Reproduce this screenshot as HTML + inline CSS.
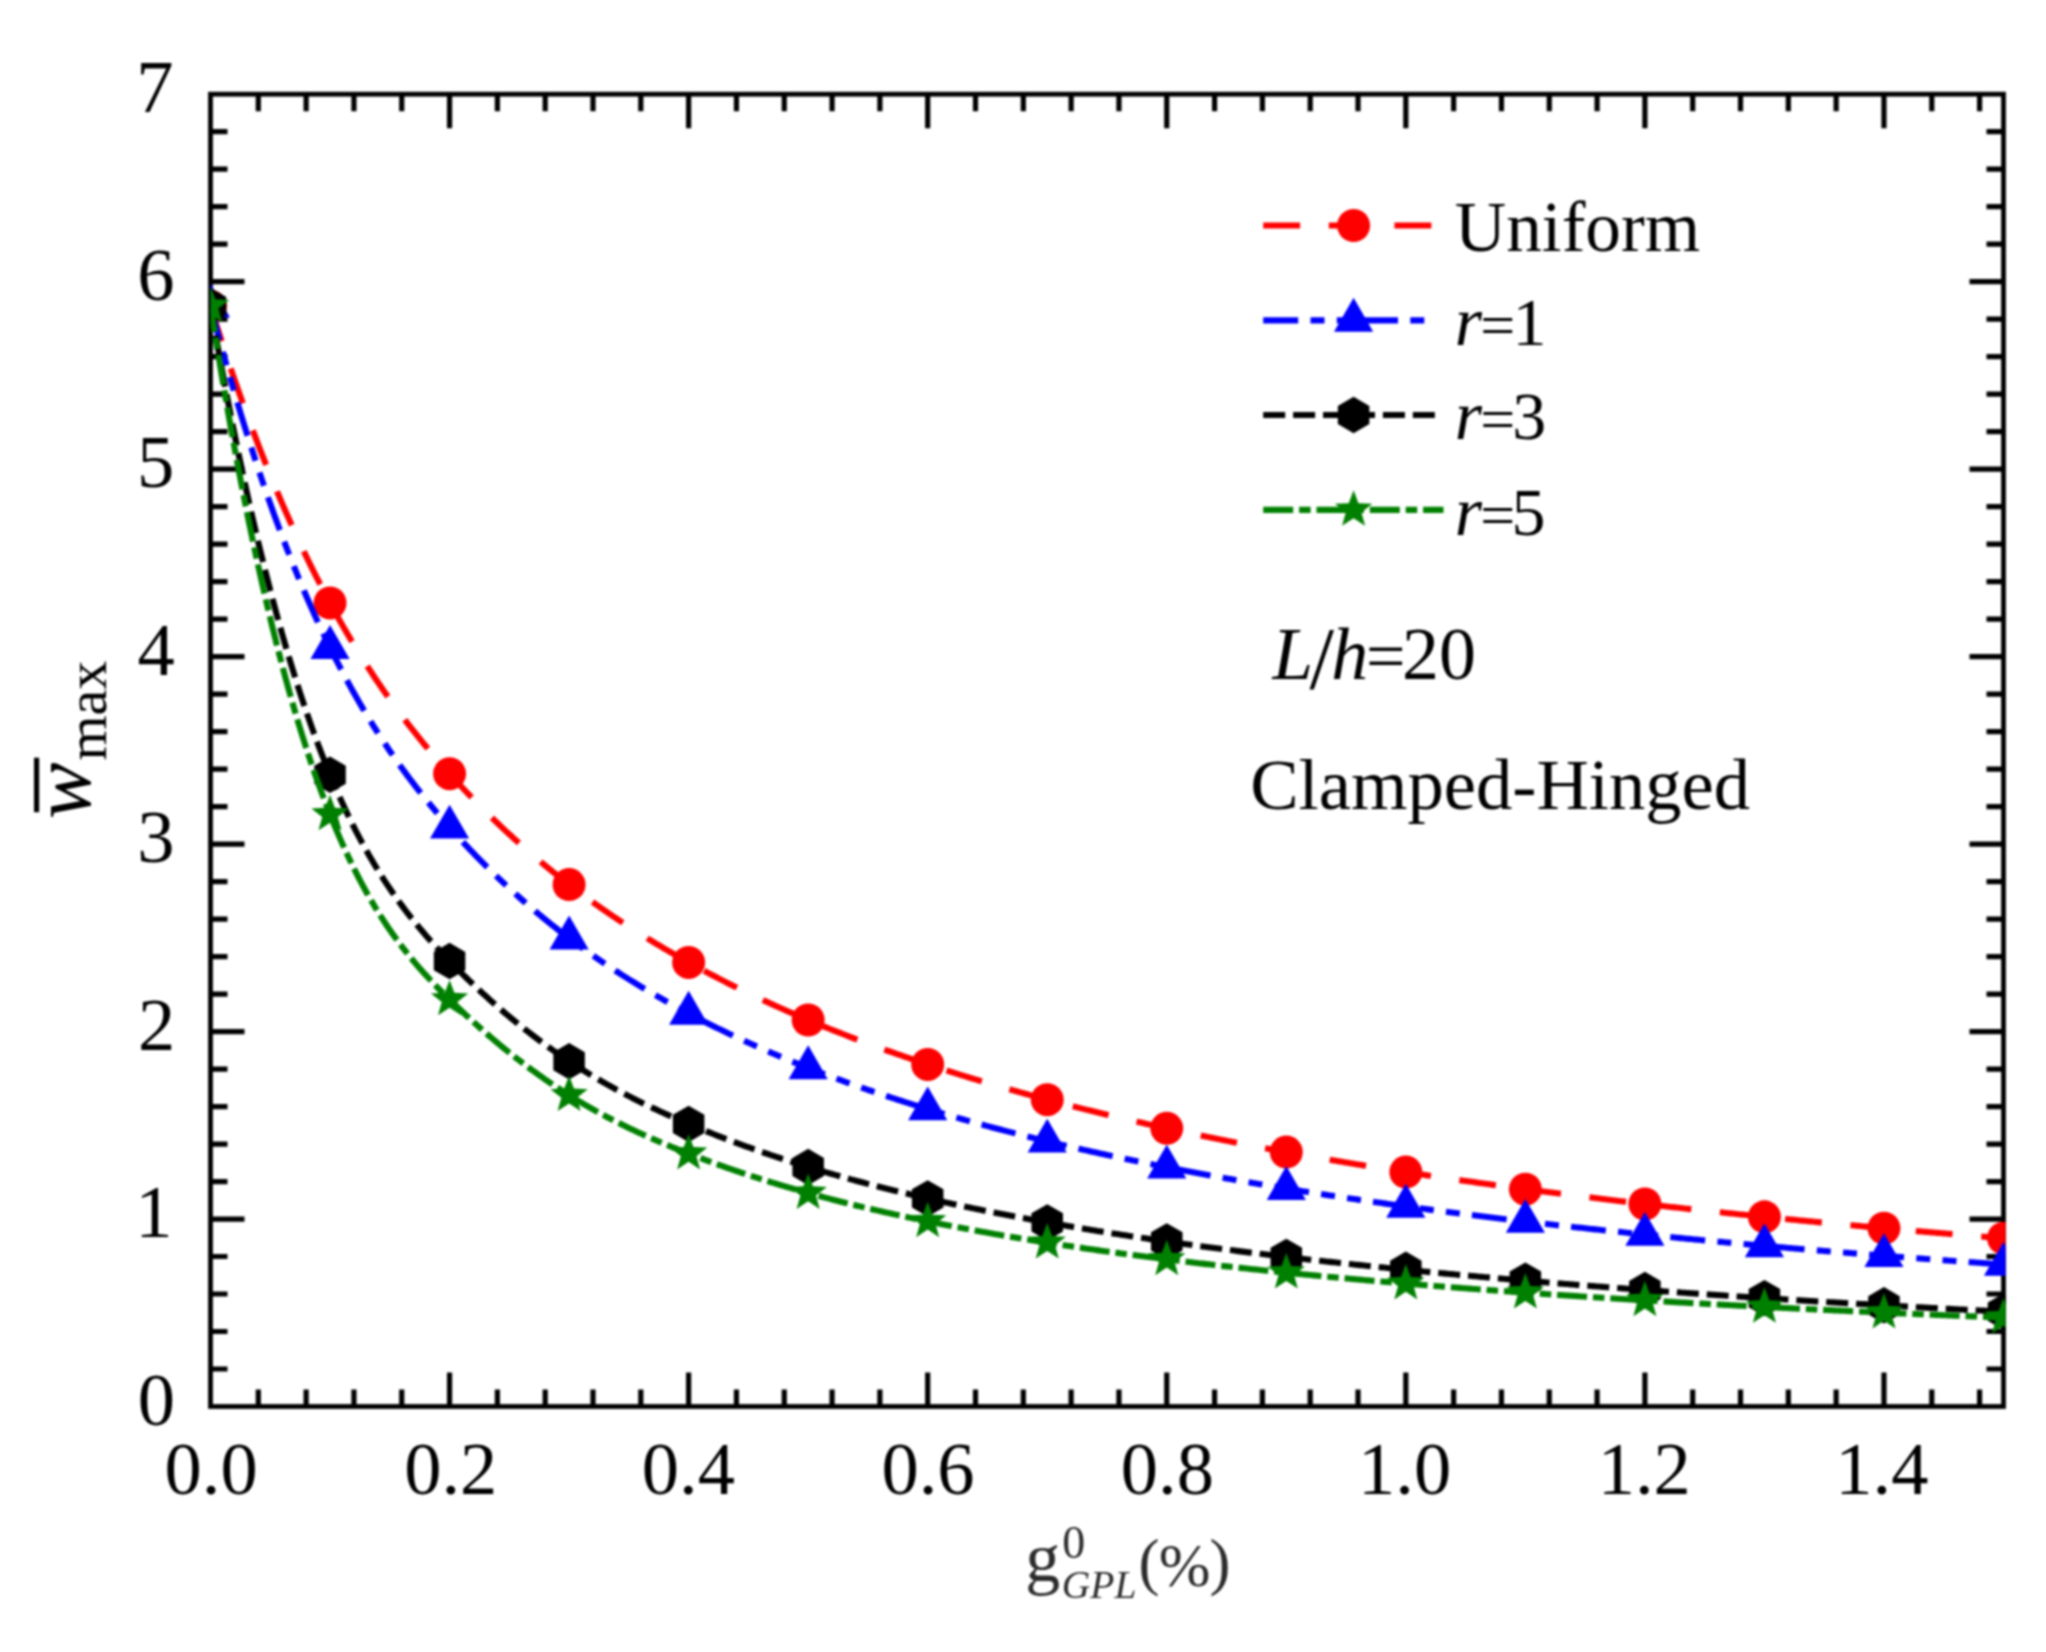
<!DOCTYPE html>
<html lang="en">
<head>
<meta charset="utf-8">
<title>Maximum deflection versus GPL weight fraction - Clamped-Hinged, L/h=20</title>
<style>
html,body{margin:0;padding:0;background:#fff;}
body{width:2046px;height:1652px;overflow:hidden;}
svg{display:block;filter:blur(0.8px);}
</style>
</head>
<body>
<svg width="2046" height="1652" viewBox="0 0 2046 1652" role="img" aria-label="Line chart of maximum deflection versus GPL weight fraction">
<rect width="2046" height="1652" fill="#ffffff"/>
<defs><clipPath id="pc"><rect x="210.5" y="94.2" width="1795.2" height="1312.3"/></clipPath></defs>
<g stroke="#000" stroke-width="5.2" fill="none" stroke-linecap="butt">
<path d="M258.31 1406.5V1389.5M258.31 94.2V111.2M306.13 1406.5V1389.5M306.13 94.2V111.2M353.94 1406.5V1389.5M353.94 94.2V111.2M401.75 1406.5V1389.5M401.75 94.2V111.2M449.57 1406.5V1372.5M449.57 94.2V128.2M497.38 1406.5V1389.5M497.38 94.2V111.2M545.19 1406.5V1389.5M545.19 94.2V111.2M593.01 1406.5V1389.5M593.01 94.2V111.2M640.82 1406.5V1389.5M640.82 94.2V111.2M688.63 1406.5V1372.5M688.63 94.2V128.2M736.45 1406.5V1389.5M736.45 94.2V111.2M784.26 1406.5V1389.5M784.26 94.2V111.2M832.07 1406.5V1389.5M832.07 94.2V111.2M879.89 1406.5V1389.5M879.89 94.2V111.2M927.7 1406.5V1372.5M927.7 94.2V128.2M975.51 1406.5V1389.5M975.51 94.2V111.2M1023.33 1406.5V1389.5M1023.33 94.2V111.2M1071.14 1406.5V1389.5M1071.14 94.2V111.2M1118.95 1406.5V1389.5M1118.95 94.2V111.2M1166.77 1406.5V1372.5M1166.77 94.2V128.2M1214.58 1406.5V1389.5M1214.58 94.2V111.2M1262.39 1406.5V1389.5M1262.39 94.2V111.2M1310.21 1406.5V1389.5M1310.21 94.2V111.2M1358.02 1406.5V1389.5M1358.02 94.2V111.2M1405.83 1406.5V1372.5M1405.83 94.2V128.2M1453.65 1406.5V1389.5M1453.65 94.2V111.2M1501.46 1406.5V1389.5M1501.46 94.2V111.2M1549.27 1406.5V1389.5M1549.27 94.2V111.2M1597.09 1406.5V1389.5M1597.09 94.2V111.2M1644.9 1406.5V1372.5M1644.9 94.2V128.2M1692.71 1406.5V1389.5M1692.71 94.2V111.2M1740.53 1406.5V1389.5M1740.53 94.2V111.2M1788.34 1406.5V1389.5M1788.34 94.2V111.2M1836.15 1406.5V1389.5M1836.15 94.2V111.2M1883.97 1406.5V1372.5M1883.97 94.2V128.2M1931.78 1406.5V1389.5M1931.78 94.2V111.2M1979.59 1406.5V1389.5M1979.59 94.2V111.2M210.5 1369.01H227.5M2003.5 1369.01H1986.5M210.5 1331.51H227.5M2003.5 1331.51H1986.5M210.5 1294.02H227.5M2003.5 1294.02H1986.5M210.5 1256.52H227.5M2003.5 1256.52H1986.5M210.5 1219.03H244.5M2003.5 1219.03H1969.5M210.5 1181.53H227.5M2003.5 1181.53H1986.5M210.5 1144.04H227.5M2003.5 1144.04H1986.5M210.5 1106.55H227.5M2003.5 1106.55H1986.5M210.5 1069.05H227.5M2003.5 1069.05H1986.5M210.5 1031.56H244.5M2003.5 1031.56H1969.5M210.5 994.06H227.5M2003.5 994.06H1986.5M210.5 956.57H227.5M2003.5 956.57H1986.5M210.5 919.07H227.5M2003.5 919.07H1986.5M210.5 881.58H227.5M2003.5 881.58H1986.5M210.5 844.09H244.5M2003.5 844.09H1969.5M210.5 806.59H227.5M2003.5 806.59H1986.5M210.5 769.1H227.5M2003.5 769.1H1986.5M210.5 731.6H227.5M2003.5 731.6H1986.5M210.5 694.11H227.5M2003.5 694.11H1986.5M210.5 656.61H244.5M2003.5 656.61H1969.5M210.5 619.12H227.5M2003.5 619.12H1986.5M210.5 581.63H227.5M2003.5 581.63H1986.5M210.5 544.13H227.5M2003.5 544.13H1986.5M210.5 506.64H227.5M2003.5 506.64H1986.5M210.5 469.14H244.5M2003.5 469.14H1969.5M210.5 431.65H227.5M2003.5 431.65H1986.5M210.5 394.15H227.5M2003.5 394.15H1986.5M210.5 356.66H227.5M2003.5 356.66H1986.5M210.5 319.17H227.5M2003.5 319.17H1986.5M210.5 281.67H244.5M2003.5 281.67H1969.5M210.5 244.18H227.5M2003.5 244.18H1986.5M210.5 206.68H227.5M2003.5 206.68H1986.5M210.5 169.19H227.5M2003.5 169.19H1986.5M210.5 131.69H227.5M2003.5 131.69H1986.5"/>
</g>
<rect x="210.5" y="94.2" width="1793" height="1312.3" fill="none" stroke="#000" stroke-width="4.8"/>
<g clip-path="url(#pc)">
<polyline points="210.5,306.15 212.49,312.55 214.48,318.88 216.48,325.16 218.47,331.39 220.46,337.56 222.45,343.68 224.45,349.74 226.44,355.75 228.43,361.71 230.42,367.61 232.41,373.46 234.41,379.26 236.4,385 238.39,390.7 240.38,396.34 242.38,401.93 244.37,407.48 246.36,412.97 248.35,418.41 250.34,423.8 252.34,429.15 254.33,434.44 256.32,439.69 258.31,444.89 260.31,450.04 262.3,455.14 264.29,460.2 266.28,465.21 268.27,470.17 270.27,475.09 272.26,479.96 274.25,484.78 276.24,489.57 278.24,494.3 280.23,499 282.22,503.64 284.21,508.25 286.2,512.81 288.2,517.33 290.19,521.81 292.18,526.24 294.17,530.64 296.17,534.99 298.16,539.3 300.15,543.57 302.14,547.8 304.13,551.99 306.13,556.14 308.12,560.25 310.11,564.33 312.1,568.36 314.1,572.36 316.09,576.31 318.08,580.23 320.07,584.12 322.06,587.96 324.06,591.77 326.05,595.55 328.04,599.28 330.03,602.99 332.03,606.66 334.02,610.29 336.01,613.89 338,617.45 339.99,620.98 341.99,624.48 343.98,627.94 345.97,631.38 347.96,634.78 349.96,638.15 351.95,641.48 353.94,644.79 355.93,648.06 357.92,651.31 359.92,654.52 361.91,657.7 363.9,660.86 365.89,663.99 367.89,667.08 369.88,670.15 371.87,673.19 373.86,676.21 375.85,679.19 377.85,682.15 379.84,685.08 381.83,687.99 383.82,690.87 385.82,693.72 387.81,696.55 389.8,699.36 391.79,702.14 393.78,704.89 395.78,707.63 397.77,710.33 399.76,713.02 401.75,715.68 403.75,718.32 405.74,720.94 407.73,723.54 409.72,726.12 411.71,728.67 413.71,731.2 415.7,733.72 417.69,736.21 419.68,738.69 421.68,741.14 423.67,743.58 425.66,746 427.65,748.4 429.64,750.78 431.64,753.14 433.63,755.49 435.62,757.82 437.61,760.13 439.61,762.43 441.6,764.72 443.59,766.98 445.58,769.23 447.57,771.47 449.57,773.7 451.56,775.91 453.55,778.1 455.54,780.28 457.54,782.45 459.53,784.61 461.52,786.75 463.51,788.87 465.5,790.99 467.5,793.09 469.49,795.18 471.48,797.25 473.47,799.31 475.47,801.36 477.46,803.4 479.45,805.42 481.44,807.43 483.43,809.43 485.43,811.41 487.42,813.39 489.41,815.35 491.4,817.3 493.4,819.23 495.39,821.16 497.38,823.07 499.37,824.97 501.36,826.86 503.36,828.73 505.35,830.6 507.34,832.45 509.33,834.29 511.33,836.12 513.32,837.94 515.31,839.75 517.3,841.54 519.29,843.33 521.29,845.1 523.28,846.86 525.27,848.62 527.26,850.36 529.26,852.09 531.25,853.81 533.24,855.52 535.23,857.22 537.22,858.91 539.22,860.58 541.21,862.25 543.2,863.91 545.19,865.56 547.19,867.2 549.18,868.82 551.17,870.44 553.16,872.05 555.15,873.65 557.15,875.24 559.14,876.82 561.13,878.39 563.12,879.95 565.12,881.5 567.11,883.05 569.1,884.58 571.09,886.1 573.08,887.62 575.08,889.13 577.07,890.63 579.06,892.11 581.05,893.6 583.05,895.07 585.04,896.53 587.03,897.99 589.02,899.43 591.01,900.87 593.01,902.3 595,903.72 596.99,905.14 598.98,906.54 600.98,907.94 602.97,909.33 604.96,910.71 606.95,912.09 608.94,913.45 610.94,914.81 612.93,916.16 614.92,917.5 616.91,918.84 618.91,920.17 620.9,921.49 622.89,922.8 624.88,924.11 626.87,925.4 628.87,926.7 630.86,927.98 632.85,929.26 634.84,930.53 636.84,931.79 638.83,933.05 640.82,934.3 642.81,935.54 644.8,936.77 646.8,938 648.79,939.23 650.78,940.44 652.77,941.65 654.77,942.86 656.76,944.05 658.75,945.24 660.74,946.43 662.73,947.61 664.73,948.78 666.72,949.95 668.71,951.11 670.7,952.26 672.7,953.41 674.69,954.55 676.68,955.69 678.67,956.82 680.66,957.95 682.66,959.07 684.65,960.18 686.64,961.29 688.63,962.4 690.63,963.5 692.62,964.59 694.61,965.68 696.6,966.76 698.59,967.84 700.59,968.91 702.58,969.98 704.57,971.04 706.56,972.1 708.56,973.16 710.55,974.2 712.54,975.25 714.53,976.28 716.52,977.32 718.52,978.35 720.51,979.37 722.5,980.39 724.49,981.4 726.49,982.41 728.48,983.41 730.47,984.41 732.46,985.41 734.45,986.4 736.45,987.38 738.44,988.36 740.43,989.34 742.42,990.31 744.42,991.28 746.41,992.24 748.4,993.2 750.39,994.16 752.38,995.11 754.38,996.05 756.37,996.99 758.36,997.93 760.35,998.86 762.35,999.79 764.34,1000.71 766.33,1001.63 768.32,1002.55 770.31,1003.46 772.31,1004.36 774.3,1005.27 776.29,1006.17 778.28,1007.06 780.28,1007.95 782.27,1008.84 784.26,1009.72 786.25,1010.6 788.24,1011.48 790.24,1012.35 792.23,1013.22 794.22,1014.08 796.21,1014.94 798.21,1015.8 800.2,1016.65 802.19,1017.5 804.18,1018.34 806.17,1019.18 808.17,1020.02 810.16,1020.86 812.15,1021.69 814.14,1022.51 816.14,1023.34 818.13,1024.16 820.12,1024.97 822.11,1025.79 824.1,1026.6 826.1,1027.4 828.09,1028.21 830.08,1029.01 832.07,1029.8 834.07,1030.59 836.06,1031.38 838.05,1032.17 840.04,1032.95 842.03,1033.73 844.03,1034.51 846.02,1035.28 848.01,1036.05 850,1036.82 852,1037.58 853.99,1038.34 855.98,1039.1 857.97,1039.85 859.96,1040.6 861.96,1041.35 863.95,1042.1 865.94,1042.84 867.93,1043.58 869.93,1044.31 871.92,1045.04 873.91,1045.77 875.9,1046.5 877.89,1047.22 879.89,1047.94 881.88,1048.66 883.87,1049.38 885.86,1050.09 887.86,1050.8 889.85,1051.5 891.84,1052.21 893.83,1052.91 895.82,1053.61 897.82,1054.3 899.81,1054.99 901.8,1055.68 903.79,1056.37 905.79,1057.05 907.78,1057.74 909.77,1058.41 911.76,1059.09 913.75,1059.76 915.75,1060.44 917.74,1061.1 919.73,1061.77 921.72,1062.43 923.72,1063.09 925.71,1063.75 927.7,1064.41 929.69,1065.06 931.68,1065.71 933.68,1066.36 935.67,1067.01 937.66,1067.65 939.65,1068.29 941.65,1068.93 943.64,1069.57 945.63,1070.2 947.62,1070.83 949.61,1071.46 951.61,1072.09 953.6,1072.71 955.59,1073.34 957.58,1073.96 959.58,1074.57 961.57,1075.19 963.56,1075.8 965.55,1076.41 967.54,1077.02 969.54,1077.63 971.53,1078.23 973.52,1078.84 975.51,1079.44 977.51,1080.03 979.5,1080.63 981.49,1081.22 983.48,1081.81 985.47,1082.4 987.47,1082.99 989.46,1083.57 991.45,1084.16 993.44,1084.74 995.44,1085.31 997.43,1085.89 999.42,1086.46 1001.41,1087.04 1003.4,1087.61 1005.4,1088.17 1007.39,1088.74 1009.38,1089.3 1011.37,1089.87 1013.37,1090.43 1015.36,1090.98 1017.35,1091.54 1019.34,1092.09 1021.33,1092.65 1023.33,1093.2 1025.32,1093.74 1027.31,1094.29 1029.3,1094.84 1031.3,1095.38 1033.29,1095.92 1035.28,1096.46 1037.27,1096.99 1039.26,1097.53 1041.26,1098.06 1043.25,1098.59 1045.24,1099.12 1047.23,1099.65 1049.23,1100.18 1051.22,1100.7 1053.21,1101.22 1055.2,1101.74 1057.19,1102.26 1059.19,1102.78 1061.18,1103.3 1063.17,1103.81 1065.16,1104.32 1067.16,1104.83 1069.15,1105.34 1071.14,1105.85 1073.13,1106.35 1075.12,1106.85 1077.12,1107.36 1079.11,1107.86 1081.1,1108.35 1083.09,1108.85 1085.09,1109.35 1087.08,1109.84 1089.07,1110.33 1091.06,1110.82 1093.05,1111.31 1095.05,1111.8 1097.04,1112.28 1099.03,1112.77 1101.02,1113.25 1103.02,1113.73 1105.01,1114.21 1107,1114.68 1108.99,1115.16 1110.98,1115.63 1112.98,1116.11 1114.97,1116.58 1116.96,1117.05 1118.95,1117.52 1120.95,1117.98 1122.94,1118.45 1124.93,1118.91 1126.92,1119.37 1128.91,1119.83 1130.91,1120.29 1132.9,1120.75 1134.89,1121.21 1136.88,1121.66 1138.88,1122.11 1140.87,1122.56 1142.86,1123.02 1144.85,1123.46 1146.84,1123.91 1148.84,1124.36 1150.83,1124.8 1152.82,1125.25 1154.81,1125.69 1156.81,1126.13 1158.8,1126.57 1160.79,1127 1162.78,1127.44 1164.77,1127.88 1166.77,1128.31 1168.76,1128.74 1170.75,1129.17 1172.74,1129.6 1174.74,1130.03 1176.73,1130.46 1178.72,1130.88 1180.71,1131.31 1182.7,1131.73 1184.7,1132.15 1186.69,1132.57 1188.68,1132.99 1190.67,1133.41 1192.67,1133.83 1194.66,1134.24 1196.65,1134.66 1198.64,1135.07 1200.63,1135.48 1202.63,1135.89 1204.62,1136.3 1206.61,1136.71 1208.6,1137.12 1210.6,1137.52 1212.59,1137.93 1214.58,1138.33 1216.57,1138.73 1218.56,1139.13 1220.56,1139.53 1222.55,1139.93 1224.54,1140.33 1226.53,1140.72 1228.53,1141.12 1230.52,1141.51 1232.51,1141.9 1234.5,1142.29 1236.49,1142.68 1238.49,1143.07 1240.48,1143.46 1242.47,1143.85 1244.46,1144.23 1246.46,1144.62 1248.45,1145 1250.44,1145.38 1252.43,1145.76 1254.42,1146.14 1256.42,1146.52 1258.41,1146.9 1260.4,1147.28 1262.39,1147.65 1264.39,1148.03 1266.38,1148.4 1268.37,1148.77 1270.36,1149.14 1272.35,1149.51 1274.35,1149.88 1276.34,1150.25 1278.33,1150.62 1280.32,1150.98 1282.32,1151.35 1284.31,1151.71 1286.3,1152.07 1288.29,1152.43 1290.28,1152.79 1292.28,1153.15 1294.27,1153.51 1296.26,1153.87 1298.25,1154.23 1300.25,1154.58 1302.24,1154.94 1304.23,1155.29 1306.22,1155.64 1308.21,1156 1310.21,1156.35 1312.2,1156.7 1314.19,1157.04 1316.18,1157.39 1318.18,1157.74 1320.17,1158.09 1322.16,1158.43 1324.15,1158.77 1326.14,1159.12 1328.14,1159.46 1330.13,1159.8 1332.12,1160.14 1334.11,1160.48 1336.11,1160.82 1338.1,1161.15 1340.09,1161.49 1342.08,1161.83 1344.07,1162.16 1346.07,1162.49 1348.06,1162.83 1350.05,1163.16 1352.04,1163.49 1354.04,1163.82 1356.03,1164.15 1358.02,1164.48 1360.01,1164.8 1362,1165.13 1364,1165.46 1365.99,1165.78 1367.98,1166.1 1369.97,1166.43 1371.97,1166.75 1373.96,1167.07 1375.95,1167.39 1377.94,1167.71 1379.93,1168.03 1381.93,1168.35 1383.92,1168.66 1385.91,1168.98 1387.9,1169.3 1389.9,1169.61 1391.89,1169.92 1393.88,1170.24 1395.87,1170.55 1397.86,1170.86 1399.86,1171.17 1401.85,1171.48 1403.84,1171.79 1405.83,1172.1 1407.83,1172.4 1409.82,1172.71 1411.81,1173.01 1413.8,1173.32 1415.79,1173.62 1417.79,1173.93 1419.78,1174.23 1421.77,1174.53 1423.76,1174.83 1425.76,1175.13 1427.75,1175.43 1429.74,1175.73 1431.73,1176.03 1433.72,1176.32 1435.72,1176.62 1437.71,1176.91 1439.7,1177.21 1441.69,1177.5 1443.69,1177.79 1445.68,1178.09 1447.67,1178.38 1449.66,1178.67 1451.65,1178.96 1453.65,1179.25 1455.64,1179.54 1457.63,1179.83 1459.62,1180.11 1461.62,1180.4 1463.61,1180.68 1465.6,1180.97 1467.59,1181.25 1469.58,1181.54 1471.58,1181.82 1473.57,1182.1 1475.56,1182.38 1477.55,1182.66 1479.55,1182.94 1481.54,1183.22 1483.53,1183.5 1485.52,1183.78 1487.51,1184.06 1489.51,1184.33 1491.5,1184.61 1493.49,1184.89 1495.48,1185.16 1497.48,1185.43 1499.47,1185.71 1501.46,1185.98 1503.45,1186.25 1505.44,1186.52 1507.44,1186.79 1509.43,1187.06 1511.42,1187.33 1513.41,1187.6 1515.41,1187.87 1517.4,1188.13 1519.39,1188.4 1521.38,1188.67 1523.37,1188.93 1525.37,1189.2 1527.36,1189.46 1529.35,1189.72 1531.34,1189.99 1533.34,1190.25 1535.33,1190.51 1537.32,1190.77 1539.31,1191.03 1541.3,1191.29 1543.3,1191.55 1545.29,1191.81 1547.28,1192.06 1549.27,1192.32 1551.27,1192.58 1553.26,1192.83 1555.25,1193.09 1557.24,1193.34 1559.23,1193.6 1561.23,1193.85 1563.22,1194.1 1565.21,1194.36 1567.2,1194.61 1569.2,1194.86 1571.19,1195.11 1573.18,1195.36 1575.17,1195.61 1577.16,1195.86 1579.16,1196.1 1581.15,1196.35 1583.14,1196.6 1585.13,1196.84 1587.13,1197.09 1589.12,1197.34 1591.11,1197.58 1593.1,1197.82 1595.09,1198.07 1597.09,1198.31 1599.08,1198.55 1601.07,1198.79 1603.06,1199.03 1605.06,1199.28 1607.05,1199.52 1609.04,1199.75 1611.03,1199.99 1613.02,1200.23 1615.02,1200.47 1617.01,1200.71 1619,1200.94 1620.99,1201.18 1622.99,1201.42 1624.98,1201.65 1626.97,1201.89 1628.96,1202.12 1630.95,1202.35 1632.95,1202.59 1634.94,1202.82 1636.93,1203.05 1638.92,1203.28 1640.92,1203.51 1642.91,1203.74 1644.9,1203.97 1646.89,1204.2 1648.88,1204.43 1650.88,1204.66 1652.87,1204.89 1654.86,1205.11 1656.85,1205.34 1658.85,1205.57 1660.84,1205.79 1662.83,1206.02 1664.82,1206.24 1666.81,1206.47 1668.81,1206.69 1670.8,1206.91 1672.79,1207.14 1674.78,1207.36 1676.78,1207.58 1678.77,1207.8 1680.76,1208.02 1682.75,1208.24 1684.74,1208.46 1686.74,1208.68 1688.73,1208.9 1690.72,1209.12 1692.71,1209.33 1694.71,1209.55 1696.7,1209.77 1698.69,1209.99 1700.68,1210.2 1702.67,1210.42 1704.67,1210.63 1706.66,1210.85 1708.65,1211.06 1710.64,1211.27 1712.64,1211.49 1714.63,1211.7 1716.62,1211.91 1718.61,1212.12 1720.6,1212.33 1722.6,1212.54 1724.59,1212.75 1726.58,1212.96 1728.57,1213.17 1730.57,1213.38 1732.56,1213.59 1734.55,1213.8 1736.54,1214.01 1738.53,1214.21 1740.53,1214.42 1742.52,1214.63 1744.51,1214.83 1746.5,1215.04 1748.5,1215.24 1750.49,1215.45 1752.48,1215.65 1754.47,1215.85 1756.46,1216.06 1758.46,1216.26 1760.45,1216.46 1762.44,1216.66 1764.43,1216.87 1766.43,1217.07 1768.42,1217.27 1770.41,1217.47 1772.4,1217.67 1774.39,1217.87 1776.39,1218.07 1778.38,1218.26 1780.37,1218.46 1782.36,1218.66 1784.36,1218.86 1786.35,1219.05 1788.34,1219.25 1790.33,1219.45 1792.32,1219.64 1794.32,1219.84 1796.31,1220.03 1798.3,1220.23 1800.29,1220.42 1802.29,1220.61 1804.28,1220.81 1806.27,1221 1808.26,1221.19 1810.25,1221.38 1812.25,1221.58 1814.24,1221.77 1816.23,1221.96 1818.22,1222.15 1820.22,1222.34 1822.21,1222.53 1824.2,1222.72 1826.19,1222.91 1828.18,1223.09 1830.18,1223.28 1832.17,1223.47 1834.16,1223.66 1836.15,1223.84 1838.15,1224.03 1840.14,1224.22 1842.13,1224.4 1844.12,1224.59 1846.11,1224.77 1848.11,1224.96 1850.1,1225.14 1852.09,1225.33 1854.08,1225.51 1856.08,1225.69 1858.07,1225.87 1860.06,1226.06 1862.05,1226.24 1864.04,1226.42 1866.04,1226.6 1868.03,1226.78 1870.02,1226.96 1872.01,1227.14 1874.01,1227.32 1876,1227.5 1877.99,1227.68 1879.98,1227.86 1881.97,1228.04 1883.97,1228.22 1885.96,1228.39 1887.95,1228.57 1889.94,1228.75 1891.94,1228.93 1893.93,1229.1 1895.92,1229.28 1897.91,1229.45 1899.9,1229.63 1901.9,1229.8 1903.89,1229.98 1905.88,1230.15 1907.87,1230.33 1909.87,1230.5 1911.86,1230.67 1913.85,1230.84 1915.84,1231.02 1917.83,1231.19 1919.83,1231.36 1921.82,1231.53 1923.81,1231.7 1925.8,1231.87 1927.8,1232.04 1929.79,1232.21 1931.78,1232.38 1933.77,1232.55 1935.76,1232.72 1937.76,1232.89 1939.75,1233.06 1941.74,1233.23 1943.73,1233.4 1945.73,1233.56 1947.72,1233.73 1949.71,1233.9 1951.7,1234.06 1953.69,1234.23 1955.69,1234.4 1957.68,1234.56 1959.67,1234.73 1961.66,1234.89 1963.66,1235.06 1965.65,1235.22 1967.64,1235.38 1969.63,1235.55 1971.62,1235.71 1973.62,1235.87 1975.61,1236.04 1977.6,1236.2 1979.59,1236.36 1981.59,1236.52 1983.58,1236.69 1985.57,1236.85 1987.56,1237.01 1989.55,1237.17 1991.55,1237.33 1993.54,1237.49 1995.53,1237.65 1997.52,1237.81 1999.52,1237.97 2001.51,1238.13 2003.5,1238.29" fill="none" stroke="#ff0000" stroke-width="6.1" stroke-dasharray="36.9 28.72" stroke-dashoffset="0"/>
<circle cx="210.5" cy="306.15" r="16.5" fill="#ff0000"/>
<circle cx="330.03" cy="602.99" r="16.5" fill="#ff0000"/>
<circle cx="449.57" cy="773.7" r="16.5" fill="#ff0000"/>
<circle cx="569.1" cy="884.58" r="16.5" fill="#ff0000"/>
<circle cx="688.63" cy="962.4" r="16.5" fill="#ff0000"/>
<circle cx="808.17" cy="1020.02" r="16.5" fill="#ff0000"/>
<circle cx="927.7" cy="1064.41" r="16.5" fill="#ff0000"/>
<circle cx="1047.23" cy="1099.65" r="16.5" fill="#ff0000"/>
<circle cx="1166.77" cy="1128.31" r="16.5" fill="#ff0000"/>
<circle cx="1286.3" cy="1152.07" r="16.5" fill="#ff0000"/>
<circle cx="1405.83" cy="1172.1" r="16.5" fill="#ff0000"/>
<circle cx="1525.37" cy="1189.2" r="16.5" fill="#ff0000"/>
<circle cx="1644.9" cy="1203.97" r="16.5" fill="#ff0000"/>
<circle cx="1764.43" cy="1216.87" r="16.5" fill="#ff0000"/>
<circle cx="1883.97" cy="1228.22" r="16.5" fill="#ff0000"/>
<circle cx="2003.5" cy="1238.29" r="16.5" fill="#ff0000"/>
<polyline points="210.5,306.13 212.49,313.73 214.48,321.26 216.48,328.71 218.47,336.08 220.46,343.39 222.45,350.62 224.45,357.78 226.44,364.87 228.43,371.89 230.42,378.84 232.41,385.72 234.41,392.53 236.4,399.27 238.39,405.94 240.38,412.55 242.38,419.08 244.37,425.55 246.36,431.96 248.35,438.29 250.34,444.57 252.34,450.77 254.33,456.92 256.32,463 258.31,469.01 260.31,474.97 262.3,480.86 264.29,486.69 266.28,492.45 268.27,498.16 270.27,503.81 272.26,509.39 274.25,514.92 276.24,520.39 278.24,525.8 280.23,531.15 282.22,536.44 284.21,541.68 286.2,546.86 288.2,551.99 290.19,557.06 292.18,562.07 294.17,567.03 296.17,571.94 298.16,576.79 300.15,581.59 302.14,586.34 304.13,591.03 306.13,595.68 308.12,600.27 310.11,604.82 312.1,609.31 314.1,613.75 316.09,618.15 318.08,622.49 320.07,626.79 322.06,631.04 324.06,635.25 326.05,639.41 328.04,643.52 330.03,647.59 332.03,651.61 334.02,655.58 336.01,659.52 338,663.41 339.99,667.25 341.99,671.06 343.98,674.82 345.97,678.54 347.96,682.22 349.96,685.86 351.95,689.46 353.94,693.02 355.93,696.54 357.92,700.03 359.92,703.47 361.91,706.88 363.9,710.25 365.89,713.58 367.89,716.88 369.88,720.15 371.87,723.37 373.86,726.57 375.85,729.73 377.85,732.85 379.84,735.95 381.83,739.01 383.82,742.03 385.82,745.03 387.81,748 389.8,750.93 391.79,753.84 393.78,756.72 395.78,759.56 397.77,762.38 399.76,765.17 401.75,767.94 403.75,770.67 405.74,773.38 407.73,776.07 409.72,778.73 411.71,781.36 413.71,783.97 415.7,786.55 417.69,789.11 419.68,791.65 421.68,794.17 423.67,796.66 425.66,799.14 427.65,801.59 429.64,804.02 431.64,806.43 433.63,808.82 435.62,811.19 437.61,813.55 439.61,815.88 441.6,818.2 443.59,820.5 445.58,822.79 447.57,825.06 449.57,827.31 451.56,829.55 453.55,831.78 455.54,833.98 457.54,836.18 459.53,838.36 461.52,840.52 463.51,842.67 465.5,844.81 467.5,846.93 469.49,849.04 471.48,851.13 473.47,853.21 475.47,855.28 477.46,857.33 479.45,859.37 481.44,861.39 483.43,863.4 485.43,865.4 487.42,867.38 489.41,869.35 491.4,871.31 493.4,873.25 495.39,875.18 497.38,877.1 499.37,879 501.36,880.9 503.36,882.77 505.35,884.64 507.34,886.49 509.33,888.34 511.33,890.17 513.32,891.98 515.31,893.79 517.3,895.58 519.29,897.36 521.29,899.13 523.28,900.88 525.27,902.63 527.26,904.36 529.26,906.08 531.25,907.79 533.24,909.49 535.23,911.18 537.22,912.86 539.22,914.52 541.21,916.17 543.2,917.82 545.19,919.45 547.19,921.07 549.18,922.68 551.17,924.28 553.16,925.87 555.15,927.45 557.15,929.02 559.14,930.57 561.13,932.12 563.12,933.66 565.12,935.19 567.11,936.71 569.1,938.21 571.09,939.71 573.08,941.2 575.08,942.68 577.07,944.15 579.06,945.61 581.05,947.06 583.05,948.5 585.04,949.93 587.03,951.35 589.02,952.77 591.01,954.17 593.01,955.57 595,956.95 596.99,958.33 598.98,959.7 600.98,961.06 602.97,962.41 604.96,963.76 606.95,965.09 608.94,966.42 610.94,967.74 612.93,969.05 614.92,970.35 616.91,971.64 618.91,972.93 620.9,974.21 622.89,975.48 624.88,976.74 626.87,977.99 628.87,979.24 630.86,980.48 632.85,981.71 634.84,982.94 636.84,984.15 638.83,985.36 640.82,986.57 642.81,987.76 644.8,988.95 646.8,990.13 648.79,991.31 650.78,992.48 652.77,993.64 654.77,994.79 656.76,995.94 658.75,997.08 660.74,998.22 662.73,999.34 664.73,1000.47 666.72,1001.58 668.71,1002.69 670.7,1003.8 672.7,1004.89 674.69,1005.99 676.68,1007.07 678.67,1008.15 680.66,1009.23 682.66,1010.3 684.65,1011.36 686.64,1012.42 688.63,1013.47 690.63,1014.52 692.62,1015.56 694.61,1016.59 696.6,1017.63 698.59,1018.65 700.59,1019.67 702.58,1020.69 704.57,1021.7 706.56,1022.7 708.56,1023.7 710.55,1024.7 712.54,1025.69 714.53,1026.67 716.52,1027.65 718.52,1028.63 720.51,1029.6 722.5,1030.57 724.49,1031.53 726.49,1032.48 728.48,1033.43 730.47,1034.38 732.46,1035.32 734.45,1036.26 736.45,1037.19 738.44,1038.12 740.43,1039.04 742.42,1039.96 744.42,1040.87 746.41,1041.78 748.4,1042.69 750.39,1043.59 752.38,1044.48 754.38,1045.37 756.37,1046.26 758.36,1047.14 760.35,1048.02 762.35,1048.9 764.34,1049.77 766.33,1050.63 768.32,1051.49 770.31,1052.35 772.31,1053.2 774.3,1054.05 776.29,1054.9 778.28,1055.74 780.28,1056.58 782.27,1057.41 784.26,1058.24 786.25,1059.06 788.24,1059.88 790.24,1060.7 792.23,1061.51 794.22,1062.32 796.21,1063.13 798.21,1063.93 800.2,1064.73 802.19,1065.52 804.18,1066.32 806.17,1067.1 808.17,1067.89 810.16,1068.67 812.15,1069.44 814.14,1070.22 816.14,1070.99 818.13,1071.75 820.12,1072.51 822.11,1073.27 824.1,1074.03 826.1,1074.78 828.09,1075.53 830.08,1076.27 832.07,1077.02 834.07,1077.76 836.06,1078.49 838.05,1079.22 840.04,1079.95 842.03,1080.68 844.03,1081.4 846.02,1082.12 848.01,1082.83 850,1083.55 852,1084.26 853.99,1084.96 855.98,1085.67 857.97,1086.37 859.96,1087.06 861.96,1087.76 863.95,1088.45 865.94,1089.14 867.93,1089.82 869.93,1090.5 871.92,1091.18 873.91,1091.86 875.9,1092.53 877.89,1093.2 879.89,1093.87 881.88,1094.53 883.87,1095.19 885.86,1095.85 887.86,1096.51 889.85,1097.16 891.84,1097.81 893.83,1098.46 895.82,1099.11 897.82,1099.75 899.81,1100.39 901.8,1101.02 903.79,1101.66 905.79,1102.29 907.78,1102.92 909.77,1103.54 911.76,1104.17 913.75,1104.79 915.75,1105.41 917.74,1106.02 919.73,1106.64 921.72,1107.25 923.72,1107.86 925.71,1108.46 927.7,1109.07 929.69,1109.67 931.68,1110.27 933.68,1110.86 935.67,1111.46 937.66,1112.05 939.65,1112.64 941.65,1113.23 943.64,1113.81 945.63,1114.39 947.62,1114.98 949.61,1115.55 951.61,1116.13 953.6,1116.7 955.59,1117.27 957.58,1117.84 959.58,1118.41 961.57,1118.97 963.56,1119.54 965.55,1120.1 967.54,1120.65 969.54,1121.21 971.53,1121.76 973.52,1122.32 975.51,1122.87 977.51,1123.41 979.5,1123.96 981.49,1124.5 983.48,1125.04 985.47,1125.58 987.47,1126.12 989.46,1126.65 991.45,1127.19 993.44,1127.72 995.44,1128.24 997.43,1128.77 999.42,1129.3 1001.41,1129.82 1003.4,1130.34 1005.4,1130.86 1007.39,1131.37 1009.38,1131.89 1011.37,1132.4 1013.37,1132.91 1015.36,1133.42 1017.35,1133.93 1019.34,1134.44 1021.33,1134.94 1023.33,1135.44 1025.32,1135.94 1027.31,1136.44 1029.3,1136.93 1031.3,1137.43 1033.29,1137.92 1035.28,1138.41 1037.27,1138.9 1039.26,1139.39 1041.26,1139.87 1043.25,1140.36 1045.24,1140.84 1047.23,1141.32 1049.23,1141.8 1051.22,1142.27 1053.21,1142.75 1055.2,1143.22 1057.19,1143.69 1059.19,1144.16 1061.18,1144.63 1063.17,1145.1 1065.16,1145.56 1067.16,1146.03 1069.15,1146.49 1071.14,1146.95 1073.13,1147.41 1075.12,1147.86 1077.12,1148.32 1079.11,1148.77 1081.1,1149.22 1083.09,1149.67 1085.09,1150.12 1087.08,1150.57 1089.07,1151.02 1091.06,1151.46 1093.05,1151.9 1095.05,1152.34 1097.04,1152.78 1099.03,1153.22 1101.02,1153.66 1103.02,1154.09 1105.01,1154.53 1107,1154.96 1108.99,1155.39 1110.98,1155.82 1112.98,1156.24 1114.97,1156.67 1116.96,1157.09 1118.95,1157.52 1120.95,1157.94 1122.94,1158.36 1124.93,1158.78 1126.92,1159.2 1128.91,1159.61 1130.91,1160.03 1132.9,1160.44 1134.89,1160.85 1136.88,1161.26 1138.88,1161.67 1140.87,1162.08 1142.86,1162.49 1144.85,1162.89 1146.84,1163.29 1148.84,1163.7 1150.83,1164.1 1152.82,1164.5 1154.81,1164.9 1156.81,1165.29 1158.8,1165.69 1160.79,1166.08 1162.78,1166.48 1164.77,1166.87 1166.77,1167.26 1168.76,1167.65 1170.75,1168.04 1172.74,1168.42 1174.74,1168.81 1176.73,1169.19 1178.72,1169.58 1180.71,1169.96 1182.7,1170.34 1184.7,1170.72 1186.69,1171.1 1188.68,1171.47 1190.67,1171.85 1192.67,1172.22 1194.66,1172.6 1196.65,1172.97 1198.64,1173.34 1200.63,1173.71 1202.63,1174.08 1204.62,1174.45 1206.61,1174.81 1208.6,1175.18 1210.6,1175.54 1212.59,1175.91 1214.58,1176.27 1216.57,1176.63 1218.56,1176.99 1220.56,1177.35 1222.55,1177.7 1224.54,1178.06 1226.53,1178.42 1228.53,1178.77 1230.52,1179.12 1232.51,1179.47 1234.5,1179.82 1236.49,1180.17 1238.49,1180.52 1240.48,1180.87 1242.47,1181.22 1244.46,1181.56 1246.46,1181.91 1248.45,1182.25 1250.44,1182.59 1252.43,1182.93 1254.42,1183.27 1256.42,1183.61 1258.41,1183.95 1260.4,1184.29 1262.39,1184.62 1264.39,1184.96 1266.38,1185.29 1268.37,1185.62 1270.36,1185.96 1272.35,1186.29 1274.35,1186.62 1276.34,1186.95 1278.33,1187.27 1280.32,1187.6 1282.32,1187.93 1284.31,1188.25 1286.3,1188.58 1288.29,1188.9 1290.28,1189.22 1292.28,1189.54 1294.27,1189.86 1296.26,1190.18 1298.25,1190.5 1300.25,1190.82 1302.24,1191.14 1304.23,1191.45 1306.22,1191.77 1308.21,1192.08 1310.21,1192.39 1312.2,1192.7 1314.19,1193.02 1316.18,1193.33 1318.18,1193.63 1320.17,1193.94 1322.16,1194.25 1324.15,1194.56 1326.14,1194.86 1328.14,1195.17 1330.13,1195.47 1332.12,1195.77 1334.11,1196.08 1336.11,1196.38 1338.1,1196.68 1340.09,1196.98 1342.08,1197.28 1344.07,1197.57 1346.07,1197.87 1348.06,1198.17 1350.05,1198.46 1352.04,1198.76 1354.04,1199.05 1356.03,1199.34 1358.02,1199.64 1360.01,1199.93 1362,1200.22 1364,1200.51 1365.99,1200.8 1367.98,1201.08 1369.97,1201.37 1371.97,1201.66 1373.96,1201.94 1375.95,1202.23 1377.94,1202.51 1379.93,1202.8 1381.93,1203.08 1383.92,1203.36 1385.91,1203.64 1387.9,1203.92 1389.9,1204.2 1391.89,1204.48 1393.88,1204.76 1395.87,1205.03 1397.86,1205.31 1399.86,1205.58 1401.85,1205.86 1403.84,1206.13 1405.83,1206.41 1407.83,1206.68 1409.82,1206.95 1411.81,1207.22 1413.8,1207.49 1415.79,1207.76 1417.79,1208.03 1419.78,1208.3 1421.77,1208.57 1423.76,1208.83 1425.76,1209.1 1427.75,1209.36 1429.74,1209.63 1431.73,1209.89 1433.72,1210.15 1435.72,1210.42 1437.71,1210.68 1439.7,1210.94 1441.69,1211.2 1443.69,1211.46 1445.68,1211.72 1447.67,1211.98 1449.66,1212.23 1451.65,1212.49 1453.65,1212.75 1455.64,1213 1457.63,1213.26 1459.62,1213.51 1461.62,1213.77 1463.61,1214.02 1465.6,1214.27 1467.59,1214.52 1469.58,1214.77 1471.58,1215.02 1473.57,1215.27 1475.56,1215.52 1477.55,1215.77 1479.55,1216.02 1481.54,1216.26 1483.53,1216.51 1485.52,1216.76 1487.51,1217 1489.51,1217.25 1491.5,1217.49 1493.49,1217.73 1495.48,1217.97 1497.48,1218.22 1499.47,1218.46 1501.46,1218.7 1503.45,1218.94 1505.44,1219.18 1507.44,1219.42 1509.43,1219.65 1511.42,1219.89 1513.41,1220.13 1515.41,1220.37 1517.4,1220.6 1519.39,1220.84 1521.38,1221.07 1523.37,1221.31 1525.37,1221.54 1527.36,1221.77 1529.35,1222 1531.34,1222.24 1533.34,1222.47 1535.33,1222.7 1537.32,1222.93 1539.31,1223.16 1541.3,1223.39 1543.3,1223.61 1545.29,1223.84 1547.28,1224.07 1549.27,1224.29 1551.27,1224.52 1553.26,1224.75 1555.25,1224.97 1557.24,1225.2 1559.23,1225.42 1561.23,1225.64 1563.22,1225.86 1565.21,1226.09 1567.2,1226.31 1569.2,1226.53 1571.19,1226.75 1573.18,1226.97 1575.17,1227.19 1577.16,1227.41 1579.16,1227.63 1581.15,1227.84 1583.14,1228.06 1585.13,1228.28 1587.13,1228.49 1589.12,1228.71 1591.11,1228.93 1593.1,1229.14 1595.09,1229.35 1597.09,1229.57 1599.08,1229.78 1601.07,1229.99 1603.06,1230.21 1605.06,1230.42 1607.05,1230.63 1609.04,1230.84 1611.03,1231.05 1613.02,1231.26 1615.02,1231.47 1617.01,1231.68 1619,1231.88 1620.99,1232.09 1622.99,1232.3 1624.98,1232.5 1626.97,1232.71 1628.96,1232.92 1630.95,1233.12 1632.95,1233.33 1634.94,1233.53 1636.93,1233.73 1638.92,1233.94 1640.92,1234.14 1642.91,1234.34 1644.9,1234.54 1646.89,1234.74 1648.88,1234.95 1650.88,1235.15 1652.87,1235.35 1654.86,1235.55 1656.85,1235.74 1658.85,1235.94 1660.84,1236.14 1662.83,1236.34 1664.82,1236.54 1666.81,1236.73 1668.81,1236.93 1670.8,1237.12 1672.79,1237.32 1674.78,1237.51 1676.78,1237.71 1678.77,1237.9 1680.76,1238.1 1682.75,1238.29 1684.74,1238.48 1686.74,1238.67 1688.73,1238.87 1690.72,1239.06 1692.71,1239.25 1694.71,1239.44 1696.7,1239.63 1698.69,1239.82 1700.68,1240.01 1702.67,1240.2 1704.67,1240.38 1706.66,1240.57 1708.65,1240.76 1710.64,1240.95 1712.64,1241.13 1714.63,1241.32 1716.62,1241.5 1718.61,1241.69 1720.6,1241.87 1722.6,1242.06 1724.59,1242.24 1726.58,1242.43 1728.57,1242.61 1730.57,1242.79 1732.56,1242.97 1734.55,1243.16 1736.54,1243.34 1738.53,1243.52 1740.53,1243.7 1742.52,1243.88 1744.51,1244.06 1746.5,1244.24 1748.5,1244.42 1750.49,1244.6 1752.48,1244.78 1754.47,1244.96 1756.46,1245.13 1758.46,1245.31 1760.45,1245.49 1762.44,1245.66 1764.43,1245.84 1766.43,1246.02 1768.42,1246.19 1770.41,1246.37 1772.4,1246.54 1774.39,1246.71 1776.39,1246.89 1778.38,1247.06 1780.37,1247.23 1782.36,1247.41 1784.36,1247.58 1786.35,1247.75 1788.34,1247.92 1790.33,1248.09 1792.32,1248.27 1794.32,1248.44 1796.31,1248.61 1798.3,1248.78 1800.29,1248.94 1802.29,1249.11 1804.28,1249.28 1806.27,1249.45 1808.26,1249.62 1810.25,1249.79 1812.25,1249.95 1814.24,1250.12 1816.23,1250.29 1818.22,1250.45 1820.22,1250.62 1822.21,1250.78 1824.2,1250.95 1826.19,1251.11 1828.18,1251.28 1830.18,1251.44 1832.17,1251.61 1834.16,1251.77 1836.15,1251.93 1838.15,1252.1 1840.14,1252.26 1842.13,1252.42 1844.12,1252.58 1846.11,1252.74 1848.11,1252.9 1850.1,1253.06 1852.09,1253.22 1854.08,1253.38 1856.08,1253.54 1858.07,1253.7 1860.06,1253.86 1862.05,1254.02 1864.04,1254.18 1866.04,1254.34 1868.03,1254.49 1870.02,1254.65 1872.01,1254.81 1874.01,1254.96 1876,1255.12 1877.99,1255.28 1879.98,1255.43 1881.97,1255.59 1883.97,1255.74 1885.96,1255.9 1887.95,1256.05 1889.94,1256.21 1891.94,1256.36 1893.93,1256.51 1895.92,1256.67 1897.91,1256.82 1899.9,1256.97 1901.9,1257.12 1903.89,1257.28 1905.88,1257.43 1907.87,1257.58 1909.87,1257.73 1911.86,1257.88 1913.85,1258.03 1915.84,1258.18 1917.83,1258.33 1919.83,1258.48 1921.82,1258.63 1923.81,1258.78 1925.8,1258.93 1927.8,1259.07 1929.79,1259.22 1931.78,1259.37 1933.77,1259.52 1935.76,1259.66 1937.76,1259.81 1939.75,1259.96 1941.74,1260.1 1943.73,1260.25 1945.73,1260.39 1947.72,1260.54 1949.71,1260.69 1951.7,1260.83 1953.69,1260.97 1955.69,1261.12 1957.68,1261.26 1959.67,1261.41 1961.66,1261.55 1963.66,1261.69 1965.65,1261.84 1967.64,1261.98 1969.63,1262.12 1971.62,1262.26 1973.62,1262.4 1975.61,1262.54 1977.6,1262.69 1979.59,1262.83 1981.59,1262.97 1983.58,1263.11 1985.57,1263.25 1987.56,1263.39 1989.55,1263.53 1991.55,1263.67 1993.54,1263.81 1995.53,1263.94 1997.52,1264.08 1999.52,1264.22 2001.51,1264.36 2003.5,1264.5" fill="none" stroke="#0000ff" stroke-width="6.1" stroke-dasharray="35 12.3 14 12.3 14 12.2" stroke-dashoffset="0"/>
<polygon points="210.5,283.53 230.07,317.43 190.93,317.43" fill="#0000ff"/>
<polygon points="330.03,624.99 349.61,658.89 310.46,658.89" fill="#0000ff"/>
<polygon points="449.57,804.71 469.14,838.61 429.99,838.61" fill="#0000ff"/>
<polygon points="569.1,915.61 588.67,949.51 549.53,949.51" fill="#0000ff"/>
<polygon points="688.63,990.87 708.21,1024.77 669.06,1024.77" fill="#0000ff"/>
<polygon points="808.17,1045.29 827.74,1079.19 788.59,1079.19" fill="#0000ff"/>
<polygon points="927.7,1086.47 947.27,1120.37 908.13,1120.37" fill="#0000ff"/>
<polygon points="1047.23,1118.72 1066.81,1152.62 1027.66,1152.62" fill="#0000ff"/>
<polygon points="1166.77,1144.66 1186.34,1178.56 1147.19,1178.56" fill="#0000ff"/>
<polygon points="1286.3,1165.98 1305.87,1199.88 1266.73,1199.88" fill="#0000ff"/>
<polygon points="1405.83,1183.81 1425.41,1217.71 1386.26,1217.71" fill="#0000ff"/>
<polygon points="1525.37,1198.94 1544.94,1232.84 1505.79,1232.84" fill="#0000ff"/>
<polygon points="1644.9,1211.94 1664.47,1245.84 1625.33,1245.84" fill="#0000ff"/>
<polygon points="1764.43,1223.24 1784.01,1257.14 1744.86,1257.14" fill="#0000ff"/>
<polygon points="1883.97,1233.14 1903.54,1267.04 1864.39,1267.04" fill="#0000ff"/>
<polygon points="2003.5,1241.9 2023.07,1275.8 1983.93,1275.8" fill="#0000ff"/>
<polyline points="210.5,306.06 212.49,317.45 214.48,328.7 216.48,339.81 218.47,350.78 220.46,361.61 222.45,372.3 224.45,382.86 226.44,393.27 228.43,403.56 230.42,413.71 232.41,423.73 234.41,433.61 236.4,443.37 238.39,452.99 240.38,462.49 242.38,471.86 244.37,481.11 246.36,490.23 248.35,499.22 250.34,508.1 252.34,516.85 254.33,525.48 256.32,533.99 258.31,542.38 260.31,550.66 262.3,558.82 264.29,566.86 266.28,574.79 268.27,582.61 270.27,590.31 272.26,597.91 274.25,605.39 276.24,612.76 278.24,620.03 280.23,627.19 282.22,634.25 284.21,641.2 286.2,648.05 288.2,654.79 290.19,661.44 292.18,667.98 294.17,674.42 296.17,680.77 298.16,687.02 300.15,693.18 302.14,699.24 304.13,705.2 306.13,711.08 308.12,716.86 310.11,722.55 312.1,728.15 314.1,733.67 316.09,739.09 318.08,744.44 320.07,749.69 322.06,754.86 324.06,759.95 326.05,764.96 328.04,769.89 330.03,774.74 332.03,779.51 334.02,784.2 336.01,788.82 338,793.36 339.99,797.82 341.99,802.22 343.98,806.54 345.97,810.79 347.96,814.97 349.96,819.08 351.95,823.13 353.94,827.1 355.93,831.02 357.92,834.87 359.92,838.65 361.91,842.37 363.9,846.03 365.89,849.64 367.89,853.18 369.88,856.66 371.87,860.09 373.86,863.46 375.85,866.78 377.85,870.05 379.84,873.26 381.83,876.42 383.82,879.53 385.82,882.59 387.81,885.6 389.8,888.57 391.79,891.49 393.78,894.36 395.78,897.19 397.77,899.98 399.76,902.73 401.75,905.43 403.75,908.1 405.74,910.73 407.73,913.32 409.72,915.87 411.71,918.39 413.71,920.88 415.7,923.33 417.69,925.75 419.68,928.14 421.68,930.5 423.67,932.83 425.66,935.14 427.65,937.42 429.64,939.67 431.64,941.9 433.63,944.1 435.62,946.28 437.61,948.44 439.61,950.58 441.6,952.71 443.59,954.81 445.58,956.9 447.57,958.97 449.57,961.03 451.56,963.07 453.55,965.1 455.54,967.12 457.54,969.13 459.53,971.12 461.52,973.09 463.51,975.06 465.5,977.01 467.5,978.95 469.49,980.87 471.48,982.78 473.47,984.68 475.47,986.56 477.46,988.44 479.45,990.3 481.44,992.14 483.43,993.98 485.43,995.8 487.42,997.61 489.41,999.4 491.4,1001.18 493.4,1002.95 495.39,1004.71 497.38,1006.46 499.37,1008.19 501.36,1009.91 503.36,1011.62 505.35,1013.31 507.34,1014.99 509.33,1016.66 511.33,1018.32 513.32,1019.97 515.31,1021.6 517.3,1023.22 519.29,1024.83 521.29,1026.43 523.28,1028.01 525.27,1029.59 527.26,1031.15 529.26,1032.7 531.25,1034.23 533.24,1035.76 535.23,1037.27 537.22,1038.78 539.22,1040.27 541.21,1041.74 543.2,1043.21 545.19,1044.67 547.19,1046.11 549.18,1047.54 551.17,1048.96 553.16,1050.37 555.15,1051.77 557.15,1053.15 559.14,1054.53 561.13,1055.89 563.12,1057.25 565.12,1058.59 567.11,1059.92 569.1,1061.24 571.09,1062.54 573.08,1063.84 575.08,1065.13 577.07,1066.4 579.06,1067.67 581.05,1068.92 583.05,1070.16 585.04,1071.4 587.03,1072.62 589.02,1073.83 591.01,1075.04 593.01,1076.23 595,1077.41 596.99,1078.59 598.98,1079.75 600.98,1080.9 602.97,1082.05 604.96,1083.18 606.95,1084.31 608.94,1085.43 610.94,1086.54 612.93,1087.64 614.92,1088.73 616.91,1089.81 618.91,1090.88 620.9,1091.95 622.89,1093.01 624.88,1094.06 626.87,1095.1 628.87,1096.13 630.86,1097.16 632.85,1098.17 634.84,1099.18 636.84,1100.19 638.83,1101.18 640.82,1102.17 642.81,1103.15 644.8,1104.12 646.8,1105.09 648.79,1106.05 650.78,1107 652.77,1107.94 654.77,1108.88 656.76,1109.82 658.75,1110.74 660.74,1111.66 662.73,1112.58 664.73,1113.49 666.72,1114.39 668.71,1115.28 670.7,1116.17 672.7,1117.06 674.69,1117.94 676.68,1118.81 678.67,1119.68 680.66,1120.55 682.66,1121.4 684.65,1122.26 686.64,1123.11 688.63,1123.95 690.63,1124.79 692.62,1125.62 694.61,1126.46 696.6,1127.28 698.59,1128.1 700.59,1128.92 702.58,1129.73 704.57,1130.54 706.56,1131.34 708.56,1132.14 710.55,1132.94 712.54,1133.73 714.53,1134.51 716.52,1135.29 718.52,1136.07 720.51,1136.84 722.5,1137.61 724.49,1138.38 726.49,1139.14 728.48,1139.89 730.47,1140.64 732.46,1141.39 734.45,1142.14 736.45,1142.88 738.44,1143.61 740.43,1144.34 742.42,1145.07 744.42,1145.79 746.41,1146.51 748.4,1147.23 750.39,1147.94 752.38,1148.65 754.38,1149.35 756.37,1150.05 758.36,1150.75 760.35,1151.44 762.35,1152.13 764.34,1152.82 766.33,1153.5 768.32,1154.17 770.31,1154.85 772.31,1155.52 774.3,1156.19 776.29,1156.85 778.28,1157.51 780.28,1158.16 782.27,1158.82 784.26,1159.47 786.25,1160.11 788.24,1160.75 790.24,1161.39 792.23,1162.03 794.22,1162.66 796.21,1163.29 798.21,1163.91 800.2,1164.53 802.19,1165.15 804.18,1165.77 806.17,1166.38 808.17,1166.99 810.16,1167.6 812.15,1168.2 814.14,1168.8 816.14,1169.39 818.13,1169.99 820.12,1170.58 822.11,1171.16 824.1,1171.75 826.1,1172.33 828.09,1172.91 830.08,1173.48 832.07,1174.05 834.07,1174.62 836.06,1175.19 838.05,1175.75 840.04,1176.31 842.03,1176.87 844.03,1177.42 846.02,1177.98 848.01,1178.52 850,1179.07 852,1179.61 853.99,1180.16 855.98,1180.69 857.97,1181.23 859.96,1181.76 861.96,1182.29 863.95,1182.82 865.94,1183.34 867.93,1183.87 869.93,1184.39 871.92,1184.9 873.91,1185.42 875.9,1185.93 877.89,1186.44 879.89,1186.95 881.88,1187.45 883.87,1187.95 885.86,1188.45 887.86,1188.95 889.85,1189.44 891.84,1189.94 893.83,1190.43 895.82,1190.92 897.82,1191.4 899.81,1191.89 901.8,1192.37 903.79,1192.85 905.79,1193.32 907.78,1193.8 909.77,1194.27 911.76,1194.74 913.75,1195.21 915.75,1195.67 917.74,1196.14 919.73,1196.6 921.72,1197.06 923.72,1197.52 925.71,1197.98 927.7,1198.43 929.69,1198.88 931.68,1199.33 933.68,1199.78 935.67,1200.23 937.66,1200.67 939.65,1201.11 941.65,1201.55 943.64,1201.99 945.63,1202.43 947.62,1202.86 949.61,1203.3 951.61,1203.73 953.6,1204.16 955.59,1204.59 957.58,1205.01 959.58,1205.44 961.57,1205.86 963.56,1206.28 965.55,1206.7 967.54,1207.12 969.54,1207.53 971.53,1207.94 973.52,1208.36 975.51,1208.77 977.51,1209.17 979.5,1209.58 981.49,1209.99 983.48,1210.39 985.47,1210.79 987.47,1211.19 989.46,1211.59 991.45,1211.98 993.44,1212.38 995.44,1212.77 997.43,1213.16 999.42,1213.55 1001.41,1213.94 1003.4,1214.33 1005.4,1214.72 1007.39,1215.1 1009.38,1215.48 1011.37,1215.86 1013.37,1216.24 1015.36,1216.62 1017.35,1216.99 1019.34,1217.37 1021.33,1217.74 1023.33,1218.11 1025.32,1218.48 1027.31,1218.85 1029.3,1219.22 1031.3,1219.59 1033.29,1219.95 1035.28,1220.31 1037.27,1220.67 1039.26,1221.03 1041.26,1221.39 1043.25,1221.75 1045.24,1222.11 1047.23,1222.46 1049.23,1222.81 1051.22,1223.16 1053.21,1223.52 1055.2,1223.86 1057.19,1224.21 1059.19,1224.56 1061.18,1224.9 1063.17,1225.25 1065.16,1225.59 1067.16,1225.93 1069.15,1226.27 1071.14,1226.61 1073.13,1226.95 1075.12,1227.28 1077.12,1227.62 1079.11,1227.95 1081.1,1228.28 1083.09,1228.61 1085.09,1228.94 1087.08,1229.27 1089.07,1229.6 1091.06,1229.92 1093.05,1230.25 1095.05,1230.57 1097.04,1230.9 1099.03,1231.22 1101.02,1231.54 1103.02,1231.86 1105.01,1232.17 1107,1232.49 1108.99,1232.8 1110.98,1233.12 1112.98,1233.43 1114.97,1233.74 1116.96,1234.05 1118.95,1234.36 1120.95,1234.67 1122.94,1234.98 1124.93,1235.29 1126.92,1235.59 1128.91,1235.9 1130.91,1236.2 1132.9,1236.5 1134.89,1236.8 1136.88,1237.1 1138.88,1237.4 1140.87,1237.7 1142.86,1237.99 1144.85,1238.29 1146.84,1238.58 1148.84,1238.88 1150.83,1239.17 1152.82,1239.46 1154.81,1239.75 1156.81,1240.04 1158.8,1240.33 1160.79,1240.62 1162.78,1240.9 1164.77,1241.19 1166.77,1241.47 1168.76,1241.76 1170.75,1242.04 1172.74,1242.32 1174.74,1242.6 1176.73,1242.88 1178.72,1243.16 1180.71,1243.44 1182.7,1243.71 1184.7,1243.99 1186.69,1244.26 1188.68,1244.54 1190.67,1244.81 1192.67,1245.08 1194.66,1245.36 1196.65,1245.63 1198.64,1245.9 1200.63,1246.16 1202.63,1246.43 1204.62,1246.7 1206.61,1246.97 1208.6,1247.23 1210.6,1247.49 1212.59,1247.76 1214.58,1248.02 1216.57,1248.28 1218.56,1248.54 1220.56,1248.8 1222.55,1249.06 1224.54,1249.32 1226.53,1249.58 1228.53,1249.83 1230.52,1250.09 1232.51,1250.34 1234.5,1250.6 1236.49,1250.85 1238.49,1251.1 1240.48,1251.36 1242.47,1251.61 1244.46,1251.86 1246.46,1252.11 1248.45,1252.35 1250.44,1252.6 1252.43,1252.85 1254.42,1253.1 1256.42,1253.34 1258.41,1253.58 1260.4,1253.83 1262.39,1254.07 1264.39,1254.31 1266.38,1254.56 1268.37,1254.8 1270.36,1255.04 1272.35,1255.28 1274.35,1255.51 1276.34,1255.75 1278.33,1255.99 1280.32,1256.22 1282.32,1256.46 1284.31,1256.69 1286.3,1256.93 1288.29,1257.16 1290.28,1257.39 1292.28,1257.63 1294.27,1257.86 1296.26,1258.09 1298.25,1258.32 1300.25,1258.55 1302.24,1258.78 1304.23,1259 1306.22,1259.23 1308.21,1259.46 1310.21,1259.68 1312.2,1259.91 1314.19,1260.13 1316.18,1260.36 1318.18,1260.58 1320.17,1260.8 1322.16,1261.02 1324.15,1261.24 1326.14,1261.47 1328.14,1261.68 1330.13,1261.9 1332.12,1262.12 1334.11,1262.34 1336.11,1262.56 1338.1,1262.77 1340.09,1262.99 1342.08,1263.21 1344.07,1263.42 1346.07,1263.63 1348.06,1263.85 1350.05,1264.06 1352.04,1264.27 1354.04,1264.48 1356.03,1264.69 1358.02,1264.9 1360.01,1265.11 1362,1265.32 1364,1265.53 1365.99,1265.74 1367.98,1265.95 1369.97,1266.15 1371.97,1266.36 1373.96,1266.57 1375.95,1266.77 1377.94,1266.97 1379.93,1267.18 1381.93,1267.38 1383.92,1267.58 1385.91,1267.79 1387.9,1267.99 1389.9,1268.19 1391.89,1268.39 1393.88,1268.59 1395.87,1268.79 1397.86,1268.99 1399.86,1269.18 1401.85,1269.38 1403.84,1269.58 1405.83,1269.78 1407.83,1269.97 1409.82,1270.17 1411.81,1270.36 1413.8,1270.56 1415.79,1270.75 1417.79,1270.94 1419.78,1271.14 1421.77,1271.33 1423.76,1271.52 1425.76,1271.71 1427.75,1271.9 1429.74,1272.09 1431.73,1272.28 1433.72,1272.47 1435.72,1272.66 1437.71,1272.85 1439.7,1273.03 1441.69,1273.22 1443.69,1273.41 1445.68,1273.59 1447.67,1273.78 1449.66,1273.96 1451.65,1274.15 1453.65,1274.33 1455.64,1274.52 1457.63,1274.7 1459.62,1274.88 1461.62,1275.06 1463.61,1275.25 1465.6,1275.43 1467.59,1275.61 1469.58,1275.79 1471.58,1275.97 1473.57,1276.15 1475.56,1276.33 1477.55,1276.5 1479.55,1276.68 1481.54,1276.86 1483.53,1277.04 1485.52,1277.21 1487.51,1277.39 1489.51,1277.56 1491.5,1277.74 1493.49,1277.91 1495.48,1278.09 1497.48,1278.26 1499.47,1278.44 1501.46,1278.61 1503.45,1278.78 1505.44,1278.95 1507.44,1279.12 1509.43,1279.3 1511.42,1279.47 1513.41,1279.64 1515.41,1279.81 1517.4,1279.98 1519.39,1280.14 1521.38,1280.31 1523.37,1280.48 1525.37,1280.65 1527.36,1280.82 1529.35,1280.98 1531.34,1281.15 1533.34,1281.32 1535.33,1281.48 1537.32,1281.65 1539.31,1281.81 1541.3,1281.98 1543.3,1282.14 1545.29,1282.3 1547.28,1282.47 1549.27,1282.63 1551.27,1282.79 1553.26,1282.95 1555.25,1283.11 1557.24,1283.28 1559.23,1283.44 1561.23,1283.6 1563.22,1283.76 1565.21,1283.92 1567.2,1284.08 1569.2,1284.23 1571.19,1284.39 1573.18,1284.55 1575.17,1284.71 1577.16,1284.87 1579.16,1285.02 1581.15,1285.18 1583.14,1285.34 1585.13,1285.49 1587.13,1285.65 1589.12,1285.8 1591.11,1285.96 1593.1,1286.11 1595.09,1286.26 1597.09,1286.42 1599.08,1286.57 1601.07,1286.72 1603.06,1286.88 1605.06,1287.03 1607.05,1287.18 1609.04,1287.33 1611.03,1287.48 1613.02,1287.63 1615.02,1287.78 1617.01,1287.93 1619,1288.08 1620.99,1288.23 1622.99,1288.38 1624.98,1288.53 1626.97,1288.68 1628.96,1288.83 1630.95,1288.97 1632.95,1289.12 1634.94,1289.27 1636.93,1289.41 1638.92,1289.56 1640.92,1289.71 1642.91,1289.85 1644.9,1290 1646.89,1290.14 1648.88,1290.28 1650.88,1290.43 1652.87,1290.57 1654.86,1290.72 1656.85,1290.86 1658.85,1291 1660.84,1291.14 1662.83,1291.29 1664.82,1291.43 1666.81,1291.57 1668.81,1291.71 1670.8,1291.85 1672.79,1291.99 1674.78,1292.13 1676.78,1292.27 1678.77,1292.41 1680.76,1292.55 1682.75,1292.69 1684.74,1292.83 1686.74,1292.97 1688.73,1293.11 1690.72,1293.24 1692.71,1293.38 1694.71,1293.52 1696.7,1293.66 1698.69,1293.79 1700.68,1293.93 1702.67,1294.06 1704.67,1294.2 1706.66,1294.34 1708.65,1294.47 1710.64,1294.61 1712.64,1294.74 1714.63,1294.87 1716.62,1295.01 1718.61,1295.14 1720.6,1295.27 1722.6,1295.41 1724.59,1295.54 1726.58,1295.67 1728.57,1295.81 1730.57,1295.94 1732.56,1296.07 1734.55,1296.2 1736.54,1296.33 1738.53,1296.46 1740.53,1296.59 1742.52,1296.72 1744.51,1296.85 1746.5,1296.98 1748.5,1297.11 1750.49,1297.24 1752.48,1297.37 1754.47,1297.5 1756.46,1297.63 1758.46,1297.75 1760.45,1297.88 1762.44,1298.01 1764.43,1298.14 1766.43,1298.26 1768.42,1298.39 1770.41,1298.52 1772.4,1298.64 1774.39,1298.77 1776.39,1298.89 1778.38,1299.02 1780.37,1299.14 1782.36,1299.27 1784.36,1299.39 1786.35,1299.52 1788.34,1299.64 1790.33,1299.77 1792.32,1299.89 1794.32,1300.01 1796.31,1300.13 1798.3,1300.26 1800.29,1300.38 1802.29,1300.5 1804.28,1300.62 1806.27,1300.75 1808.26,1300.87 1810.25,1300.99 1812.25,1301.11 1814.24,1301.23 1816.23,1301.35 1818.22,1301.47 1820.22,1301.59 1822.21,1301.71 1824.2,1301.83 1826.19,1301.95 1828.18,1302.07 1830.18,1302.19 1832.17,1302.31 1834.16,1302.42 1836.15,1302.54 1838.15,1302.66 1840.14,1302.78 1842.13,1302.9 1844.12,1303.01 1846.11,1303.13 1848.11,1303.25 1850.1,1303.36 1852.09,1303.48 1854.08,1303.59 1856.08,1303.71 1858.07,1303.83 1860.06,1303.94 1862.05,1304.06 1864.04,1304.17 1866.04,1304.29 1868.03,1304.4 1870.02,1304.51 1872.01,1304.63 1874.01,1304.74 1876,1304.85 1877.99,1304.97 1879.98,1305.08 1881.97,1305.19 1883.97,1305.31 1885.96,1305.42 1887.95,1305.53 1889.94,1305.64 1891.94,1305.75 1893.93,1305.87 1895.92,1305.98 1897.91,1306.09 1899.9,1306.2 1901.9,1306.31 1903.89,1306.42 1905.88,1306.53 1907.87,1306.64 1909.87,1306.75 1911.86,1306.86 1913.85,1306.97 1915.84,1307.08 1917.83,1307.19 1919.83,1307.29 1921.82,1307.4 1923.81,1307.51 1925.8,1307.62 1927.8,1307.73 1929.79,1307.84 1931.78,1307.94 1933.77,1308.05 1935.76,1308.16 1937.76,1308.26 1939.75,1308.37 1941.74,1308.48 1943.73,1308.58 1945.73,1308.69 1947.72,1308.8 1949.71,1308.9 1951.7,1309.01 1953.69,1309.11 1955.69,1309.22 1957.68,1309.32 1959.67,1309.43 1961.66,1309.53 1963.66,1309.64 1965.65,1309.74 1967.64,1309.84 1969.63,1309.95 1971.62,1310.05 1973.62,1310.15 1975.61,1310.26 1977.6,1310.36 1979.59,1310.46 1981.59,1310.57 1983.58,1310.67 1985.57,1310.77 1987.56,1310.87 1989.55,1310.98 1991.55,1311.08 1993.54,1311.18 1995.53,1311.28 1997.52,1311.38 1999.52,1311.48 2001.51,1311.58 2003.5,1311.68" fill="none" stroke="#000000" stroke-width="6.1" stroke-dasharray="22 7.93" stroke-dashoffset="0"/>
<polygon points="210.5,287.86 226.26,296.96 226.26,315.16 210.5,324.26 194.74,315.16 194.74,296.96" fill="#000000"/>
<polygon points="330.03,756.54 345.79,765.64 345.79,783.84 330.03,792.94 314.27,783.84 314.27,765.64" fill="#000000"/>
<polygon points="449.57,942.83 465.33,951.93 465.33,970.13 449.57,979.23 433.81,970.13 433.81,951.93" fill="#000000"/>
<polygon points="569.1,1043.04 584.86,1052.14 584.86,1070.34 569.1,1079.44 553.34,1070.34 553.34,1052.14" fill="#000000"/>
<polygon points="688.63,1105.75 704.39,1114.85 704.39,1133.05 688.63,1142.15 672.87,1133.05 672.87,1114.85" fill="#000000"/>
<polygon points="808.17,1148.79 823.93,1157.89 823.93,1176.09 808.17,1185.19 792.41,1176.09 792.41,1157.89" fill="#000000"/>
<polygon points="927.7,1180.23 943.46,1189.33 943.46,1207.53 927.7,1216.63 911.94,1207.53 911.94,1189.33" fill="#000000"/>
<polygon points="1047.23,1204.26 1062.99,1213.36 1062.99,1231.56 1047.23,1240.66 1031.47,1231.56 1031.47,1213.36" fill="#000000"/>
<polygon points="1166.77,1223.27 1182.53,1232.37 1182.53,1250.57 1166.77,1259.67 1151.01,1250.57 1151.01,1232.37" fill="#000000"/>
<polygon points="1286.3,1238.73 1302.06,1247.83 1302.06,1266.03 1286.3,1275.13 1270.54,1266.03 1270.54,1247.83" fill="#000000"/>
<polygon points="1405.83,1251.58 1421.59,1260.68 1421.59,1278.88 1405.83,1287.98 1390.07,1278.88 1390.07,1260.68" fill="#000000"/>
<polygon points="1525.37,1262.45 1541.13,1271.55 1541.13,1289.75 1525.37,1298.85 1509.61,1289.75 1509.61,1271.55" fill="#000000"/>
<polygon points="1644.9,1271.8 1660.66,1280.9 1660.66,1299.1 1644.9,1308.2 1629.14,1299.1 1629.14,1280.9" fill="#000000"/>
<polygon points="1764.43,1279.94 1780.19,1289.04 1780.19,1307.24 1764.43,1316.34 1748.67,1307.24 1748.67,1289.04" fill="#000000"/>
<polygon points="1883.97,1287.11 1899.73,1296.21 1899.73,1314.41 1883.97,1323.51 1868.21,1314.41 1868.21,1296.21" fill="#000000"/>
<polygon points="2003.5,1293.48 2019.26,1302.58 2019.26,1320.78 2003.5,1329.88 1987.74,1320.78 1987.74,1302.58" fill="#000000"/>
<polyline points="210.5,306.02 212.49,318.67 214.48,331.14 216.48,343.46 218.47,355.61 220.46,367.59 222.45,379.42 224.45,391.08 226.44,402.59 228.43,413.93 230.42,425.13 232.41,436.16 234.41,447.05 236.4,457.78 238.39,468.36 240.38,478.79 242.38,489.08 244.37,499.21 246.36,509.2 248.35,519.05 250.34,528.75 252.34,538.32 254.33,547.74 256.32,557.02 258.31,566.16 260.31,575.17 262.3,584.04 264.29,592.78 266.28,601.38 268.27,609.86 270.27,618.2 272.26,626.42 274.25,634.5 276.24,642.46 278.24,650.3 280.23,658.01 282.22,665.6 284.21,673.07 286.2,680.42 288.2,687.65 290.19,694.77 292.18,701.77 294.17,708.65 296.17,715.42 298.16,722.08 300.15,728.63 302.14,735.07 304.13,741.4 306.13,747.62 308.12,753.74 310.11,759.75 312.1,765.67 314.1,771.48 316.09,777.19 318.08,782.8 320.07,788.31 322.06,793.73 324.06,799.05 326.05,804.28 328.04,809.41 330.03,814.46 332.03,819.41 334.02,824.28 336.01,829.06 338,833.75 339.99,838.36 341.99,842.89 343.98,847.33 345.97,851.69 347.96,855.97 349.96,860.18 351.95,864.31 353.94,868.36 355.93,872.34 357.92,876.24 359.92,880.08 361.91,883.84 363.9,887.53 365.89,891.16 367.89,894.72 369.88,898.22 371.87,901.65 373.86,905.01 375.85,908.32 377.85,911.57 379.84,914.76 381.83,917.89 383.82,920.96 385.82,923.98 387.81,926.95 389.8,929.87 391.79,932.73 393.78,935.54 395.78,938.31 397.77,941.03 399.76,943.7 401.75,946.33 403.75,948.92 405.74,951.46 407.73,953.96 409.72,956.43 411.71,958.86 413.71,961.25 415.7,963.6 417.69,965.92 419.68,968.21 421.68,970.47 423.67,972.69 425.66,974.89 427.65,977.06 429.64,979.21 431.64,981.33 433.63,983.42 435.62,985.49 437.61,987.55 439.61,989.58 441.6,991.59 443.59,993.59 445.58,995.57 447.57,997.54 449.57,999.49 451.56,1001.43 453.55,1003.36 455.54,1005.28 457.54,1007.19 459.53,1009.08 461.52,1010.96 463.51,1012.84 465.5,1014.69 467.5,1016.54 469.49,1018.38 471.48,1020.2 473.47,1022.01 475.47,1023.81 477.46,1025.6 479.45,1027.37 481.44,1029.14 483.43,1030.89 485.43,1032.63 487.42,1034.36 489.41,1036.08 491.4,1037.78 493.4,1039.47 495.39,1041.16 497.38,1042.83 499.37,1044.48 501.36,1046.13 503.36,1047.77 505.35,1049.39 507.34,1051 509.33,1052.6 511.33,1054.19 513.32,1055.76 515.31,1057.33 517.3,1058.88 519.29,1060.42 521.29,1061.95 523.28,1063.47 525.27,1064.98 527.26,1066.47 529.26,1067.96 531.25,1069.43 533.24,1070.89 535.23,1072.34 537.22,1073.77 539.22,1075.2 541.21,1076.61 543.2,1078.01 545.19,1079.4 547.19,1080.78 549.18,1082.15 551.17,1083.51 553.16,1084.85 555.15,1086.18 557.15,1087.5 559.14,1088.81 561.13,1090.11 563.12,1091.4 565.12,1092.67 567.11,1093.94 569.1,1095.19 571.09,1096.43 573.08,1097.66 575.08,1098.88 577.07,1100.09 579.06,1101.28 581.05,1102.47 583.05,1103.64 585.04,1104.81 587.03,1105.96 589.02,1107.1 591.01,1108.24 593.01,1109.36 595,1110.47 596.99,1111.57 598.98,1112.67 600.98,1113.75 602.97,1114.82 604.96,1115.89 606.95,1116.94 608.94,1117.99 610.94,1119.03 612.93,1120.05 614.92,1121.07 616.91,1122.08 618.91,1123.08 620.9,1124.08 622.89,1125.06 624.88,1126.04 626.87,1127.01 628.87,1127.97 630.86,1128.92 632.85,1129.86 634.84,1130.8 636.84,1131.73 638.83,1132.65 640.82,1133.57 642.81,1134.47 644.8,1135.37 646.8,1136.27 648.79,1137.15 650.78,1138.03 652.77,1138.91 654.77,1139.78 656.76,1140.64 658.75,1141.49 660.74,1142.34 662.73,1143.18 664.73,1144.02 666.72,1144.85 668.71,1145.67 670.7,1146.49 672.7,1147.31 674.69,1148.12 676.68,1148.92 678.67,1149.72 680.66,1150.51 682.66,1151.3 684.65,1152.09 686.64,1152.87 688.63,1153.64 690.63,1154.41 692.62,1155.18 694.61,1155.94 696.6,1156.7 698.59,1157.46 700.59,1158.21 702.58,1158.95 704.57,1159.69 706.56,1160.43 708.56,1161.16 710.55,1161.89 712.54,1162.62 714.53,1163.34 716.52,1164.06 718.52,1164.77 720.51,1165.48 722.5,1166.18 724.49,1166.88 726.49,1167.58 728.48,1168.28 730.47,1168.96 732.46,1169.65 734.45,1170.33 736.45,1171.01 738.44,1171.68 740.43,1172.35 742.42,1173.02 744.42,1173.68 746.41,1174.34 748.4,1175 750.39,1175.65 752.38,1176.3 754.38,1176.94 756.37,1177.58 758.36,1178.22 760.35,1178.85 762.35,1179.48 764.34,1180.11 766.33,1180.73 768.32,1181.35 770.31,1181.97 772.31,1182.58 774.3,1183.19 776.29,1183.79 778.28,1184.39 780.28,1184.99 782.27,1185.59 784.26,1186.18 786.25,1186.77 788.24,1187.35 790.24,1187.94 792.23,1188.51 794.22,1189.09 796.21,1189.66 798.21,1190.23 800.2,1190.8 802.19,1191.36 804.18,1191.92 806.17,1192.48 808.17,1193.03 810.16,1193.58 812.15,1194.13 814.14,1194.67 816.14,1195.21 818.13,1195.75 820.12,1196.29 822.11,1196.82 824.1,1197.35 826.1,1197.87 828.09,1198.4 830.08,1198.92 832.07,1199.44 834.07,1199.95 836.06,1200.46 838.05,1200.97 840.04,1201.48 842.03,1201.98 844.03,1202.49 846.02,1202.98 848.01,1203.48 850,1203.97 852,1204.46 853.99,1204.95 855.98,1205.44 857.97,1205.92 859.96,1206.4 861.96,1206.88 863.95,1207.35 865.94,1207.82 867.93,1208.3 869.93,1208.76 871.92,1209.23 873.91,1209.69 875.9,1210.15 877.89,1210.61 879.89,1211.07 881.88,1211.52 883.87,1211.97 885.86,1212.42 887.86,1212.87 889.85,1213.31 891.84,1213.75 893.83,1214.19 895.82,1214.63 897.82,1215.07 899.81,1215.5 901.8,1215.93 903.79,1216.36 905.79,1216.79 907.78,1217.21 909.77,1217.64 911.76,1218.06 913.75,1218.48 915.75,1218.89 917.74,1219.31 919.73,1219.72 921.72,1220.13 923.72,1220.54 925.71,1220.95 927.7,1221.36 929.69,1221.76 931.68,1222.16 933.68,1222.56 935.67,1222.96 937.66,1223.36 939.65,1223.75 941.65,1224.15 943.64,1224.54 945.63,1224.93 947.62,1225.32 949.61,1225.7 951.61,1226.09 953.6,1226.47 955.59,1226.85 957.58,1227.23 959.58,1227.61 961.57,1227.98 963.56,1228.36 965.55,1228.73 967.54,1229.1 969.54,1229.47 971.53,1229.84 973.52,1230.2 975.51,1230.57 977.51,1230.93 979.5,1231.29 981.49,1231.65 983.48,1232.01 985.47,1232.37 987.47,1232.72 989.46,1233.08 991.45,1233.43 993.44,1233.78 995.44,1234.13 997.43,1234.48 999.42,1234.82 1001.41,1235.17 1003.4,1235.51 1005.4,1235.85 1007.39,1236.19 1009.38,1236.53 1011.37,1236.87 1013.37,1237.2 1015.36,1237.54 1017.35,1237.87 1019.34,1238.2 1021.33,1238.53 1023.33,1238.86 1025.32,1239.19 1027.31,1239.51 1029.3,1239.84 1031.3,1240.16 1033.29,1240.48 1035.28,1240.8 1037.27,1241.12 1039.26,1241.44 1041.26,1241.75 1043.25,1242.07 1045.24,1242.38 1047.23,1242.69 1049.23,1243.01 1051.22,1243.32 1053.21,1243.62 1055.2,1243.93 1057.19,1244.24 1059.19,1244.54 1061.18,1244.85 1063.17,1245.15 1065.16,1245.45 1067.16,1245.75 1069.15,1246.05 1071.14,1246.35 1073.13,1246.64 1075.12,1246.94 1077.12,1247.23 1079.11,1247.53 1081.1,1247.82 1083.09,1248.11 1085.09,1248.4 1087.08,1248.69 1089.07,1248.97 1091.06,1249.26 1093.05,1249.54 1095.05,1249.83 1097.04,1250.11 1099.03,1250.39 1101.02,1250.67 1103.02,1250.95 1105.01,1251.23 1107,1251.5 1108.99,1251.78 1110.98,1252.06 1112.98,1252.33 1114.97,1252.6 1116.96,1252.87 1118.95,1253.14 1120.95,1253.41 1122.94,1253.68 1124.93,1253.95 1126.92,1254.22 1128.91,1254.48 1130.91,1254.75 1132.9,1255.01 1134.89,1255.27 1136.88,1255.53 1138.88,1255.79 1140.87,1256.05 1142.86,1256.31 1144.85,1256.57 1146.84,1256.82 1148.84,1257.08 1150.83,1257.33 1152.82,1257.59 1154.81,1257.84 1156.81,1258.09 1158.8,1258.34 1160.79,1258.59 1162.78,1258.84 1164.77,1259.09 1166.77,1259.34 1168.76,1259.58 1170.75,1259.83 1172.74,1260.07 1174.74,1260.32 1176.73,1260.56 1178.72,1260.8 1180.71,1261.04 1182.7,1261.28 1184.7,1261.52 1186.69,1261.76 1188.68,1262 1190.67,1262.23 1192.67,1262.47 1194.66,1262.71 1196.65,1262.94 1198.64,1263.17 1200.63,1263.41 1202.63,1263.64 1204.62,1263.87 1206.61,1264.1 1208.6,1264.33 1210.6,1264.56 1212.59,1264.78 1214.58,1265.01 1216.57,1265.24 1218.56,1265.46 1220.56,1265.69 1222.55,1265.91 1224.54,1266.13 1226.53,1266.35 1228.53,1266.58 1230.52,1266.8 1232.51,1267.02 1234.5,1267.23 1236.49,1267.45 1238.49,1267.67 1240.48,1267.89 1242.47,1268.1 1244.46,1268.32 1246.46,1268.53 1248.45,1268.75 1250.44,1268.96 1252.43,1269.17 1254.42,1269.38 1256.42,1269.59 1258.41,1269.8 1260.4,1270.01 1262.39,1270.22 1264.39,1270.43 1266.38,1270.64 1268.37,1270.84 1270.36,1271.05 1272.35,1271.25 1274.35,1271.46 1276.34,1271.66 1278.33,1271.87 1280.32,1272.07 1282.32,1272.27 1284.31,1272.47 1286.3,1272.67 1288.29,1272.87 1290.28,1273.07 1292.28,1273.27 1294.27,1273.47 1296.26,1273.66 1298.25,1273.86 1300.25,1274.06 1302.24,1274.25 1304.23,1274.45 1306.22,1274.64 1308.21,1274.83 1310.21,1275.03 1312.2,1275.22 1314.19,1275.41 1316.18,1275.6 1318.18,1275.79 1320.17,1275.98 1322.16,1276.17 1324.15,1276.36 1326.14,1276.54 1328.14,1276.73 1330.13,1276.92 1332.12,1277.1 1334.11,1277.29 1336.11,1277.47 1338.1,1277.66 1340.09,1277.84 1342.08,1278.03 1344.07,1278.21 1346.07,1278.39 1348.06,1278.57 1350.05,1278.75 1352.04,1278.93 1354.04,1279.11 1356.03,1279.29 1358.02,1279.47 1360.01,1279.65 1362,1279.82 1364,1280 1365.99,1280.18 1367.98,1280.35 1369.97,1280.53 1371.97,1280.7 1373.96,1280.87 1375.95,1281.05 1377.94,1281.22 1379.93,1281.39 1381.93,1281.57 1383.92,1281.74 1385.91,1281.91 1387.9,1282.08 1389.9,1282.25 1391.89,1282.42 1393.88,1282.59 1395.87,1282.75 1397.86,1282.92 1399.86,1283.09 1401.85,1283.25 1403.84,1283.42 1405.83,1283.59 1407.83,1283.75 1409.82,1283.92 1411.81,1284.08 1413.8,1284.24 1415.79,1284.41 1417.79,1284.57 1419.78,1284.73 1421.77,1284.89 1423.76,1285.05 1425.76,1285.22 1427.75,1285.38 1429.74,1285.54 1431.73,1285.69 1433.72,1285.85 1435.72,1286.01 1437.71,1286.17 1439.7,1286.33 1441.69,1286.48 1443.69,1286.64 1445.68,1286.8 1447.67,1286.95 1449.66,1287.11 1451.65,1287.26 1453.65,1287.42 1455.64,1287.57 1457.63,1287.72 1459.62,1287.88 1461.62,1288.03 1463.61,1288.18 1465.6,1288.33 1467.59,1288.48 1469.58,1288.63 1471.58,1288.78 1473.57,1288.93 1475.56,1289.08 1477.55,1289.23 1479.55,1289.38 1481.54,1289.53 1483.53,1289.68 1485.52,1289.82 1487.51,1289.97 1489.51,1290.12 1491.5,1290.26 1493.49,1290.41 1495.48,1290.55 1497.48,1290.7 1499.47,1290.84 1501.46,1290.98 1503.45,1291.13 1505.44,1291.27 1507.44,1291.41 1509.43,1291.56 1511.42,1291.7 1513.41,1291.84 1515.41,1291.98 1517.4,1292.12 1519.39,1292.26 1521.38,1292.4 1523.37,1292.54 1525.37,1292.68 1527.36,1292.82 1529.35,1292.96 1531.34,1293.09 1533.34,1293.23 1535.33,1293.37 1537.32,1293.51 1539.31,1293.64 1541.3,1293.78 1543.3,1293.91 1545.29,1294.05 1547.28,1294.18 1549.27,1294.32 1551.27,1294.45 1553.26,1294.59 1555.25,1294.72 1557.24,1294.85 1559.23,1294.99 1561.23,1295.12 1563.22,1295.25 1565.21,1295.38 1567.2,1295.51 1569.2,1295.64 1571.19,1295.77 1573.18,1295.9 1575.17,1296.03 1577.16,1296.16 1579.16,1296.29 1581.15,1296.42 1583.14,1296.55 1585.13,1296.68 1587.13,1296.81 1589.12,1296.93 1591.11,1297.06 1593.1,1297.19 1595.09,1297.31 1597.09,1297.44 1599.08,1297.56 1601.07,1297.69 1603.06,1297.81 1605.06,1297.94 1607.05,1298.06 1609.04,1298.19 1611.03,1298.31 1613.02,1298.43 1615.02,1298.56 1617.01,1298.68 1619,1298.8 1620.99,1298.93 1622.99,1299.05 1624.98,1299.17 1626.97,1299.29 1628.96,1299.41 1630.95,1299.53 1632.95,1299.65 1634.94,1299.77 1636.93,1299.89 1638.92,1300.01 1640.92,1300.13 1642.91,1300.25 1644.9,1300.37 1646.89,1300.48 1648.88,1300.6 1650.88,1300.72 1652.87,1300.84 1654.86,1300.95 1656.85,1301.07 1658.85,1301.18 1660.84,1301.3 1662.83,1301.42 1664.82,1301.53 1666.81,1301.65 1668.81,1301.76 1670.8,1301.88 1672.79,1301.99 1674.78,1302.1 1676.78,1302.22 1678.77,1302.33 1680.76,1302.44 1682.75,1302.56 1684.74,1302.67 1686.74,1302.78 1688.73,1302.89 1690.72,1303 1692.71,1303.12 1694.71,1303.23 1696.7,1303.34 1698.69,1303.45 1700.68,1303.56 1702.67,1303.67 1704.67,1303.78 1706.66,1303.89 1708.65,1304 1710.64,1304.1 1712.64,1304.21 1714.63,1304.32 1716.62,1304.43 1718.61,1304.54 1720.6,1304.64 1722.6,1304.75 1724.59,1304.86 1726.58,1304.96 1728.57,1305.07 1730.57,1305.18 1732.56,1305.28 1734.55,1305.39 1736.54,1305.49 1738.53,1305.6 1740.53,1305.7 1742.52,1305.81 1744.51,1305.91 1746.5,1306.02 1748.5,1306.12 1750.49,1306.22 1752.48,1306.33 1754.47,1306.43 1756.46,1306.53 1758.46,1306.64 1760.45,1306.74 1762.44,1306.84 1764.43,1306.94 1766.43,1307.04 1768.42,1307.14 1770.41,1307.25 1772.4,1307.35 1774.39,1307.45 1776.39,1307.55 1778.38,1307.65 1780.37,1307.75 1782.36,1307.85 1784.36,1307.95 1786.35,1308.05 1788.34,1308.14 1790.33,1308.24 1792.32,1308.34 1794.32,1308.44 1796.31,1308.54 1798.3,1308.64 1800.29,1308.73 1802.29,1308.83 1804.28,1308.93 1806.27,1309.02 1808.26,1309.12 1810.25,1309.22 1812.25,1309.31 1814.24,1309.41 1816.23,1309.5 1818.22,1309.6 1820.22,1309.7 1822.21,1309.79 1824.2,1309.89 1826.19,1309.98 1828.18,1310.07 1830.18,1310.17 1832.17,1310.26 1834.16,1310.36 1836.15,1310.45 1838.15,1310.54 1840.14,1310.64 1842.13,1310.73 1844.12,1310.82 1846.11,1310.91 1848.11,1311.01 1850.1,1311.1 1852.09,1311.19 1854.08,1311.28 1856.08,1311.37 1858.07,1311.46 1860.06,1311.55 1862.05,1311.64 1864.04,1311.73 1866.04,1311.82 1868.03,1311.92 1870.02,1312 1872.01,1312.09 1874.01,1312.18 1876,1312.27 1877.99,1312.36 1879.98,1312.45 1881.97,1312.54 1883.97,1312.63 1885.96,1312.72 1887.95,1312.8 1889.94,1312.89 1891.94,1312.98 1893.93,1313.07 1895.92,1313.15 1897.91,1313.24 1899.9,1313.33 1901.9,1313.41 1903.89,1313.5 1905.88,1313.59 1907.87,1313.67 1909.87,1313.76 1911.86,1313.84 1913.85,1313.93 1915.84,1314.02 1917.83,1314.1 1919.83,1314.19 1921.82,1314.27 1923.81,1314.35 1925.8,1314.44 1927.8,1314.52 1929.79,1314.61 1931.78,1314.69 1933.77,1314.77 1935.76,1314.86 1937.76,1314.94 1939.75,1315.02 1941.74,1315.11 1943.73,1315.19 1945.73,1315.27 1947.72,1315.35 1949.71,1315.44 1951.7,1315.52 1953.69,1315.6 1955.69,1315.68 1957.68,1315.76 1959.67,1315.84 1961.66,1315.93 1963.66,1316.01 1965.65,1316.09 1967.64,1316.17 1969.63,1316.25 1971.62,1316.33 1973.62,1316.41 1975.61,1316.49 1977.6,1316.57 1979.59,1316.65 1981.59,1316.73 1983.58,1316.81 1985.57,1316.88 1987.56,1316.96 1989.55,1317.04 1991.55,1317.12 1993.54,1317.2 1995.53,1317.28 1997.52,1317.36 1999.52,1317.43 2001.51,1317.51 2003.5,1317.59" fill="none" stroke="#008000" stroke-width="6.1" stroke-dasharray="30 5.9 11.5 5.9" stroke-dashoffset="3.8"/>
<polygon points="210.5,286.42 215.34,299.36 229.14,299.97 218.33,308.57 222.02,321.88 210.5,314.25 198.98,321.88 202.67,308.57 191.86,299.97 205.66,299.36" fill="#008000"/>
<polygon points="330.03,794.86 334.87,807.8 348.67,808.4 337.86,817 341.55,830.32 330.03,822.69 318.51,830.32 322.2,817 311.39,808.4 325.19,807.8" fill="#008000"/>
<polygon points="449.57,979.89 454.41,992.83 468.21,993.44 457.4,1002.04 461.09,1015.35 449.57,1007.73 438.05,1015.35 441.74,1002.04 430.93,993.44 444.73,992.83" fill="#008000"/>
<polygon points="569.1,1075.59 573.94,1088.53 587.74,1089.13 576.93,1097.73 580.62,1111.05 569.1,1103.42 557.58,1111.05 561.27,1097.73 550.46,1089.13 564.26,1088.53" fill="#008000"/>
<polygon points="688.63,1134.04 693.47,1146.98 707.27,1147.59 696.46,1156.19 700.15,1169.5 688.63,1161.87 677.11,1169.5 680.8,1156.19 669.99,1147.59 683.79,1146.98" fill="#008000"/>
<polygon points="808.17,1173.43 813.01,1186.37 826.81,1186.97 816,1195.57 819.69,1208.89 808.17,1201.26 796.65,1208.89 800.34,1195.57 789.53,1186.97 803.33,1186.37" fill="#008000"/>
<polygon points="927.7,1201.76 932.54,1214.7 946.34,1215.3 935.53,1223.9 939.22,1237.21 927.7,1229.59 916.18,1237.21 919.87,1223.9 909.06,1215.3 922.86,1214.7" fill="#008000"/>
<polygon points="1047.23,1223.09 1052.07,1236.04 1065.87,1236.64 1055.06,1245.24 1058.75,1258.55 1047.23,1250.93 1035.71,1258.55 1039.4,1245.24 1028.59,1236.64 1042.39,1236.04" fill="#008000"/>
<polygon points="1166.77,1239.74 1171.61,1252.68 1185.41,1253.28 1174.6,1261.88 1178.29,1275.19 1166.77,1267.57 1155.25,1275.19 1158.94,1261.88 1148.13,1253.28 1161.93,1252.68" fill="#008000"/>
<polygon points="1286.3,1253.07 1291.14,1266.01 1304.94,1266.61 1294.13,1275.22 1297.82,1288.53 1286.3,1280.9 1274.78,1288.53 1278.47,1275.22 1267.66,1266.61 1281.46,1266.01" fill="#008000"/>
<polygon points="1405.83,1263.99 1410.67,1276.93 1424.47,1277.53 1413.66,1286.13 1417.35,1299.44 1405.83,1291.82 1394.31,1299.44 1398,1286.13 1387.19,1277.53 1400.99,1276.93" fill="#008000"/>
<polygon points="1525.37,1273.08 1530.21,1286.02 1544.01,1286.62 1533.2,1295.22 1536.89,1308.54 1525.37,1300.91 1513.85,1308.54 1517.54,1295.22 1506.73,1286.62 1520.53,1286.02" fill="#008000"/>
<polygon points="1644.9,1280.77 1649.74,1293.71 1663.54,1294.31 1652.73,1302.91 1656.42,1316.22 1644.9,1308.6 1633.38,1316.22 1637.07,1302.91 1626.26,1294.31 1640.06,1293.71" fill="#008000"/>
<polygon points="1764.43,1287.34 1769.27,1300.28 1783.07,1300.89 1772.26,1309.49 1775.95,1322.8 1764.43,1315.17 1752.91,1322.8 1756.6,1309.49 1745.79,1300.89 1759.59,1300.28" fill="#008000"/>
<polygon points="1883.97,1293.03 1888.81,1305.97 1902.61,1306.57 1891.8,1315.17 1895.49,1328.48 1883.97,1320.86 1872.45,1328.48 1876.14,1315.17 1865.33,1306.57 1879.13,1305.97" fill="#008000"/>
<polygon points="2003.5,1297.99 2008.34,1310.93 2022.14,1311.53 2011.33,1320.13 2015.02,1333.45 2003.5,1325.82 1991.98,1333.45 1995.67,1320.13 1984.86,1311.53 1998.66,1310.93" fill="#008000"/>
</g>
<g style="font-family:'Liberation Serif','DejaVu Serif',serif" fill="#000">
<text transform="translate(137.68 1424.5) scale(1.0000 1)" font-size="74.5">0</text>
<text transform="translate(135.14 1237.03) scale(1.0000 1)" font-size="74.5">1</text>
<text transform="translate(138.09 1049.56) scale(1.0000 1)" font-size="74.5">2</text>
<text transform="translate(137.35 862.09) scale(1.0000 1)" font-size="74.5">3</text>
<text transform="translate(137.53 674.61) scale(1.0000 1)" font-size="74.5">4</text>
<text transform="translate(136.97 487.14) scale(1.0000 1)" font-size="74.5">5</text>
<text transform="translate(137.18 299.67) scale(1.0000 1)" font-size="74.5">6</text>
<text transform="translate(136.29 112.2) scale(1.0000 1)" font-size="74.5">7</text>
<text transform="translate(164.54 1494) scale(1.0000 1)" font-size="74.5">0.0</text>
<text transform="translate(404.24 1494) scale(1.0000 1)" font-size="74.5">0.2</text>
<text transform="translate(641.83 1494) scale(1.0000 1)" font-size="74.5">0.4</text>
<text transform="translate(881.43 1494) scale(1.0000 1)" font-size="74.5">0.6</text>
<text transform="translate(1120.8 1494) scale(1.0000 1)" font-size="74.5">0.8</text>
<text transform="translate(1358.02 1494) scale(1.0000 1)" font-size="74.5">1.0</text>
<text transform="translate(1597.72 1494) scale(1.0000 1)" font-size="74.5">1.2</text>
<text transform="translate(1835.31 1494) scale(1.0000 1)" font-size="74.5">1.4</text>
<text transform="translate(1454.8 251.3) scale(1.0033 1)" font-size="71">Uniform</text>
<text><tspan x="1454.76" y="345.3" font-size="70" font-style="italic">r</tspan><tspan x="1480.31" y="346.3" font-size="62">=</tspan><tspan x="1512.62" y="345.3" font-size="68">1</tspan></text>
<text><tspan x="1454.76" y="439.4" font-size="70" font-style="italic">r</tspan><tspan x="1480.31" y="440.4" font-size="62">=</tspan><tspan x="1512.25" y="439.4" font-size="68">3</tspan></text>
<text><tspan x="1454.76" y="534.7" font-size="70" font-style="italic">r</tspan><tspan x="1480.31" y="535.7" font-size="62">=</tspan><tspan x="1511.55" y="534.7" font-size="68">5</tspan></text>
<text><tspan x="1272.46" y="679.4" font-size="73" font-style="italic">L</tspan><tspan x="1309.6" y="687.9" font-size="88">/</tspan><tspan x="1331.33" y="679.4" font-size="74" font-style="italic">h</tspan><tspan x="1366.11" y="680" font-size="70">=</tspan><tspan x="1401.95" y="679.4" font-size="74">20</tspan></text>
<text transform="translate(1250.22 809.4) scale(1.0151 1)" font-size="71.5">Clamped-Hinged</text>
<text fill="#2b2b2b"><tspan x="1025.29" y="1580.5" font-size="70">g</tspan><tspan x="1062.25" y="1558.3" font-size="46">0</tspan><tspan x="1061.82" y="1597.5" font-size="39.5" font-style="italic">GPL</tspan><tspan x="1138.43" y="1583" font-size="63">(</tspan><tspan x="1158.68" y="1585.5" font-size="62">%</tspan><tspan x="1209.57" y="1583" font-size="63">)</tspan></text>
<g transform="translate(89.5 817.2) rotate(-90)">
<text><tspan x="-1.73" y="0" font-size="85" font-style="italic">w</tspan><tspan x="56.58" y="16.5" font-size="58">max</tspan></text>
<rect x="5" y="-55.5" width="54.5" height="5.2"/>
</g>
</g>
<line x1="1263.2" y1="225.5" x2="1436" y2="225.5" stroke="#ff0000" stroke-width="6.1" stroke-dasharray="36.9 28.72"/>
<circle cx="1353.6" cy="225.5" r="16.5" fill="#ff0000"/>
<line x1="1263.2" y1="320.4" x2="1430" y2="320.4" stroke="#0000ff" stroke-width="6.1" stroke-dasharray="35 12.3 14 12.3 14 12.2"/>
<polygon points="1353.6,297.8 1373.17,331.7 1334.03,331.7" fill="#0000ff"/>
<line x1="1263.2" y1="415" x2="1436" y2="415" stroke="#000000" stroke-width="6.1" stroke-dasharray="22 7.93"/>
<polygon points="1353.6,396.8 1369.36,405.9 1369.36,424.1 1353.6,433.2 1337.84,424.1 1337.84,405.9" fill="#000000"/>
<line x1="1263.2" y1="509.9" x2="1443.5" y2="509.9" stroke="#008000" stroke-width="6.1" stroke-dasharray="30 5.9 11.5 5.9"/>
<polygon points="1353.6,490.3 1358.44,503.24 1372.24,503.84 1361.43,512.44 1365.12,525.76 1353.6,518.13 1342.08,525.76 1345.77,512.44 1334.96,503.84 1348.76,503.24" fill="#008000"/>
</svg>
</body>
</html>
